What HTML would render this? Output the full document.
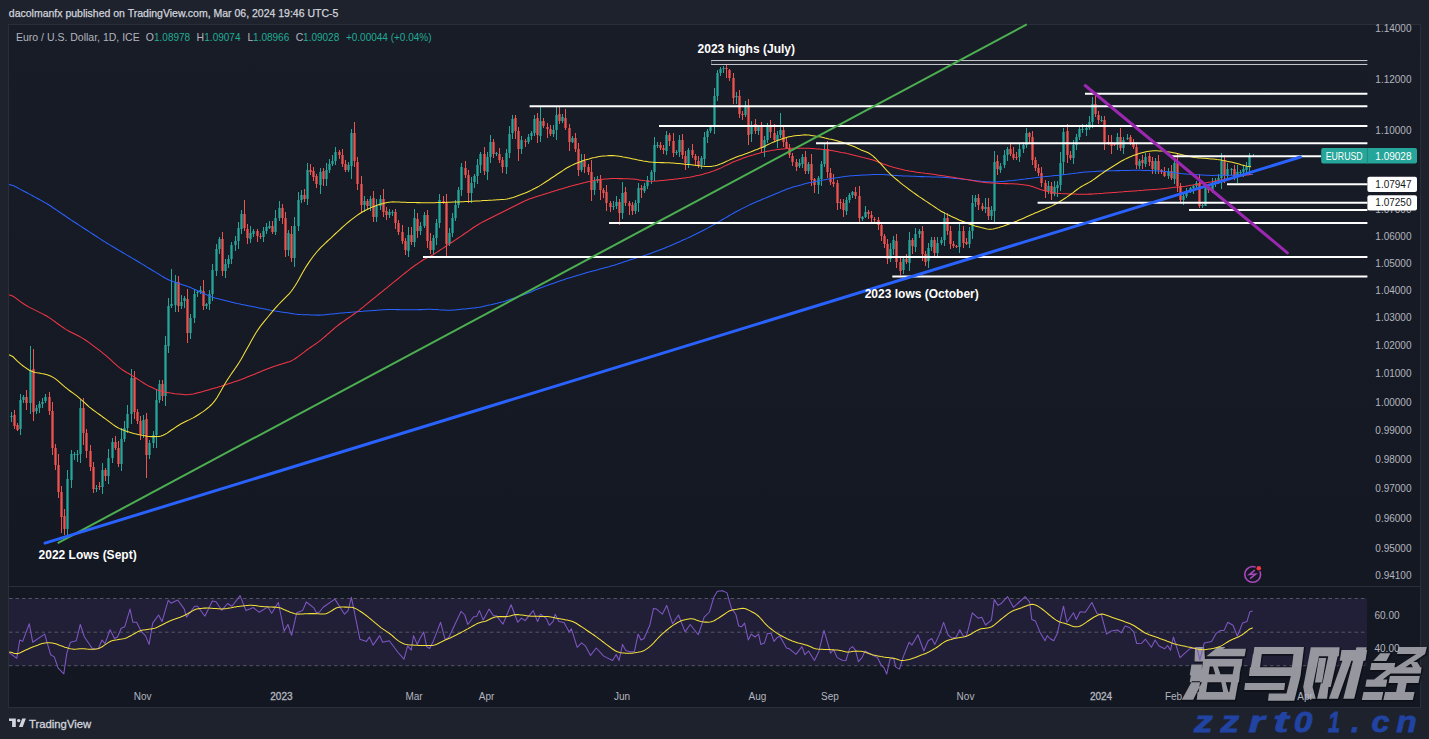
<!DOCTYPE html>
<html><head><meta charset="utf-8"><style>
html,body{margin:0;padding:0;width:1429px;height:739px;overflow:hidden;background:#1e222d}
.hdr{position:absolute;left:8.8px;top:7px;font-family:'Liberation Sans',sans-serif;font-size:10.5px;color:#d1d4dc;white-space:nowrap;-webkit-text-stroke:0.25px #d1d4dc}
.panel{position:absolute;left:8px;top:24px;width:1411px;height:682px;border:1px solid #2a2e39;background:linear-gradient(#181c27,#131722)}
svg{position:absolute;left:0;top:0}
</style></head><body>
<div class="hdr">dacolmanfx published on TradingView.com, Mar 06, 2024 19:46 UTC-5</div>
<div class="panel"></div>
<svg width="1429" height="739" viewBox="0 0 1429 739">
<defs><clipPath id="cp"><rect x="9" y="25" width="1358.4" height="682"/></clipPath></defs>
<rect x="9" y="598.5" width="1358" height="67.2" fill="#7e57c2" fill-opacity="0.13"/><line x1="9" y1="598.5" x2="1367" y2="598.5" stroke="#787b86" stroke-width="1" stroke-opacity="0.6" stroke-dasharray="3.5 3"/><line x1="9" y1="632.2" x2="1367" y2="632.2" stroke="#787b86" stroke-width="1" stroke-opacity="0.6" stroke-dasharray="3.5 3"/><line x1="9" y1="665.7" x2="1367" y2="665.7" stroke="#787b86" stroke-width="1" stroke-opacity="0.6" stroke-dasharray="3.5 3"/><line x1="9" y1="586.5" x2="1420" y2="586.5" stroke="#2a2e39" stroke-width="1"/><path d="M11.5 411.9V421.9M20.5 393.6V435.2M23.5 395.0V402.5M30.5 345.5V413.8M36.5 404.6V414.1M39.5 400.5V413.2M42.5 397.7V407.7M45.5 393.7V403.1M67.5 470.3V534.8M71.5 449.5V488.0M74.5 452.1V459.9M77.5 449.6V462.2M80.5 399.5V463.1M96.5 485.1V491.6M102.5 462.5V494.1M108.5 448.9V484.3M112.5 437.9V462.6M121.5 427.7V471.0M124.5 421.2V442.1M127.5 404.7V433.2M131.5 368.5V424.0M143.5 414.9V437.5M149.5 439.6V459.2M153.5 431.3V447.5M156.5 388.5V448.2M159.5 379.5V403.3M165.5 336.1V405.5M168.5 297.6V352.6M171.5 268.6V307.8M175.5 274.8V312.3M181.5 295.0V308.9M184.5 295.8V308.1M190.5 314.3V338.7M194.5 289.2V322.5M197.5 290.3V296.8M200.5 285.8V294.0M206.5 302.5V309.0M209.5 290.1V310.0M212.5 264.3V301.3M216.5 244.1V276.0M219.5 237.0V253.8M225.5 259.1V277.5M228.5 254.8V267.7M231.5 241.8V264.1M235.5 235.9V251.2M238.5 221.8V248.6M241.5 209.5V233.9M250.5 226.2V243.1M253.5 229.2V237.2M263.5 227.0V241.9M266.5 223.0V234.1M269.5 220.9V228.6M275.5 209.8V234.6M279.5 200.7V220.7M288.5 230.1V255.8M294.5 217.3V266.8M298.5 191.7V230.6M301.5 189.6V202.9M307.5 163.1V205.1M320.5 167.6V193.7M326.5 162.5V186.3M329.5 159.4V172.7M332.5 154.6V165.5M335.5 147.0V164.6M348.5 162.3V171.8M351.5 129.3V179.0M364.5 195.7V211.5M370.5 195.6V210.7M376.5 198.9V222.4M380.5 194.7V210.3M389.5 208.8V217.6M392.5 209.6V215.6M408.5 227.2V257.1M414.5 209.0V246.9M420.5 222.1V235.0M424.5 211.6V228.4M433.5 234.7V255.2M436.5 219.0V244.5M439.5 193.6V227.6M449.5 228.1V245.9M452.5 212.9V236.5M455.5 199.9V220.8M458.5 186.9V207.9M461.5 162.5V196.2M471.5 176.5V202.9M474.5 174.0V188.3M477.5 159.1V183.8M480.5 151.6V172.8M487.5 152.1V180.0M490.5 135.0V163.0M496.5 151.5V156.1M506.5 149.0V174.4M509.5 126.0V158.0M512.5 115.4V138.8M521.5 135.7V153.8M528.5 133.5V144.3M531.5 131.3V140.2M534.5 114.6V135.8M540.5 107.0V142.0M553.5 125.3V136.5M556.5 107.0V139.8M562.5 114.4V122.9M572.5 135.9V143.1M581.5 153.5V172.4M594.5 177.1V195.0M597.5 176.2V182.6M613.5 201.1V209.9M616.5 195.7V208.9M622.5 182.4V219.1M635.5 199.6V214.0M638.5 183.0V211.9M644.5 183.4V192.9M647.5 176.0V189.2M651.5 170.3V183.7M654.5 136.6V180.5M657.5 141.5V147.5M666.5 130.5V155.3M676.5 149.9V154.6M679.5 134.7V156.6M688.5 147.5V167.8M701.5 155.7V169.2M704.5 131.9V164.5M707.5 129.3V142.9M710.5 124.7V133.4M714.5 88.3V133.9M717.5 70.0V100.5M720.5 67.1V75.9M723.5 66.0V72.8M736.5 92.0V104.2M745.5 101.1V116.8M751.5 121.4V141.7M758.5 125.1V135.0M764.5 136.2V157.4M767.5 123.3V142.6M777.5 130.5V147.8M780.5 113.0V137.6M799.5 158.9V168.0M802.5 153.8V168.0M808.5 162.4V173.7M818.5 175.6V193.8M821.5 161.0V186.2M824.5 143.7V167.4M846.5 196.7V215.3M849.5 193.2V202.9M852.5 191.3V198.0M862.5 215.8V221.2M865.5 205.6V218.1M890.5 243.1V261.8M893.5 236.3V254.9M903.5 256.5V274.4M909.5 231.6V271.0M915.5 227.7V252.3M919.5 229.2V237.9M928.5 242.8V268.3M931.5 237.3V251.2M937.5 237.4V257.1M941.5 237.3V245.1M944.5 212.1V245.6M959.5 222.9V252.7M969.5 227.1V247.6M972.5 195.3V238.8M975.5 195.4V207.4M985.5 197.9V212.8M991.5 205.5V219.5M994.5 150.7V223.5M1000.5 163.3V173.1M1004.5 149.7V168.2M1007.5 146.9V161.0M1019.5 143.1V161.5M1023.5 141.7V152.7M1026.5 128.0V147.8M1048.5 181.1V193.8M1054.5 180.5V196.1M1057.5 180.5V196.8M1060.5 152.3V190.6M1063.5 128.0V174.5M1073.5 139.8V163.7M1076.5 134.3V149.6M1079.5 127.1V139.7M1082.5 124.3V132.9M1086.5 124.3V135.5M1089.5 115.8V130.0M1092.5 97.0V127.7M1101.5 115.5V122.4M1117.5 132.6V150.1M1123.5 136.8V154.2M1127.5 134.0V139.9M1139.5 159.0V168.8M1145.5 153.3V166.8M1155.5 158.2V174.4M1168.5 168.4V179.2M1174.5 159.0V184.0M1183.5 194.2V205.3M1186.5 187.8V198.2M1190.5 186.7V193.0M1193.5 184.9V193.5M1196.5 180.7V190.1M1202.5 204.0V208.0M1205.5 183.1V206.0M1212.5 178.1V193.2M1215.5 177.5V187.3M1218.5 173.5V184.0M1221.5 153.0V189.1M1227.5 163.2V179.7M1231.5 167.5V175.2M1237.5 165.1V182.5M1240.5 170.2V173.9M1243.5 165.1V176.9M1246.5 161.9V172.5M1249.5 152.7V174.1M1253.5 154.3V156.8" stroke="#26a69a" stroke-width="1" fill="none" shape-rendering="crispEdges"/><path d="M14.5 409.7V429.1M17.5 423.2V430.9M26.5 389.8V410.0M33.5 348.7V420.5M49.5 392.0V415.0M52.5 402.3V455.1M55.5 444.4V470.3M58.5 454.1V497.5M61.5 485.5V533.0M64.5 509.0V535.0M83.5 397.9V444.6M86.5 428.8V457.7M90.5 445.0V470.5M93.5 461.6V493.4M99.5 482.4V489.5M105.5 468.3V480.7M115.5 435.9V450.1M118.5 441.4V467.0M134.5 371.3V418.5M137.5 408.8V423.5M140.5 416.2V440.3M146.5 412.5V478.0M162.5 379.6V400.6M178.5 276.1V311.8M187.5 289.4V343.3M203.5 280.0V309.7M222.5 231.9V276.4M244.5 200.0V231.3M247.5 224.1V243.8M257.5 228.9V241.6M260.5 233.3V238.8M272.5 220.8V234.1M282.5 203.8V223.6M285.5 212.2V257.0M291.5 225.5V262.4M304.5 189.0V201.8M310.5 164.1V174.7M313.5 167.3V180.7M316.5 174.2V187.7M323.5 168.3V185.7M339.5 150.1V158.7M342.5 149.4V166.6M345.5 159.5V172.0M354.5 121.6V167.4M357.5 157.3V190.3M361.5 175.8V211.8M367.5 199.1V209.2M373.5 190.7V221.9M383.5 189.3V216.5M386.5 207.3V219.5M395.5 208.5V228.9M398.5 220.1V234.7M402.5 224.7V243.7M405.5 237.7V255.3M411.5 227.0V244.5M417.5 212.8V238.2M427.5 210.0V248.0M430.5 233.4V254.0M443.5 195.7V204.2M446.5 193.5V257.8M465.5 160.7V177.8M468.5 170.4V202.5M484.5 147.2V175.2M493.5 139.2V157.9M499.5 148.1V162.9M502.5 156.5V172.5M515.5 114.8V139.0M518.5 127.0V161.1M525.5 139.2V146.8M537.5 112.8V142.7M543.5 117.9V128.2M547.5 123.1V137.8M550.5 124.5V135.9M559.5 107.0V123.6M565.5 109.1V130.2M569.5 124.2V150.9M575.5 132.7V152.3M578.5 143.1V175.8M584.5 154.4V173.4M588.5 163.7V175.3M591.5 160.0V200.7M600.5 175.1V199.6M603.5 188.4V197.6M606.5 184.8V210.7M610.5 200.5V212.2M619.5 199.1V225.0M625.5 187.2V205.9M629.5 201.0V215.1M632.5 202.4V214.5M641.5 185.3V197.9M660.5 141.7V149.9M663.5 144.8V154.0M669.5 132.9V146.2M673.5 133.2V157.2M682.5 134.0V158.5M685.5 151.4V170.1M692.5 143.8V157.7M695.5 153.7V166.2M698.5 155.6V168.2M726.5 64.3V78.0M729.5 68.5V81.0M733.5 73.2V104.1M739.5 89.8V118.4M742.5 110.9V120.3M748.5 98.6V145.1M755.5 119.2V133.8M761.5 121.7V152.1M770.5 120.3V137.6M774.5 123.7V142.0M783.5 124.9V147.2M786.5 138.0V149.4M789.5 144.1V157.7M792.5 153.4V166.1M796.5 159.2V171.2M805.5 151.2V174.1M811.5 154.3V185.5M814.5 177.7V192.8M827.5 141.2V178.4M830.5 168.1V184.9M833.5 174.1V186.5M837.5 179.6V209.7M840.5 198.9V208.7M843.5 198.9V217.0M855.5 186.8V198.7M859.5 185.9V223.2M868.5 210.2V218.7M871.5 210.9V224.1M874.5 217.0V221.7M878.5 217.3V230.0M881.5 221.8V240.7M884.5 233.8V247.7M887.5 239.1V263.7M896.5 233.9V268.1M900.5 256.7V274.8M906.5 253.9V263.9M912.5 237.8V253.5M922.5 225.6V260.5M925.5 251.0V265.6M934.5 236.6V256.0M947.5 212.8V234.5M950.5 226.4V249.2M953.5 240.5V247.7M956.5 244.7V247.7M963.5 225.8V247.5M966.5 237.5V245.4M978.5 193.6V209.5M982.5 202.5V211.0M988.5 198.1V220.1M997.5 154.6V174.7M1010.5 144.0V156.3M1013.5 147.2V160.4M1016.5 152.0V159.9M1029.5 131.5V143.4M1032.5 131.3V165.0M1035.5 157.1V170.9M1038.5 163.6V176.3M1041.5 166.5V186.8M1045.5 180.3V198.2M1051.5 182.3V200.0M1067.5 124.2V163.4M1070.5 151.4V160.4M1095.5 94.5V117.3M1098.5 110.9V124.3M1104.5 115.8V149.6M1108.5 135.3V144.9M1111.5 135.1V153.7M1114.5 143.5V146.4M1120.5 128.1V151.3M1130.5 134.5V145.4M1133.5 139.1V149.1M1136.5 141.6V168.8M1142.5 154.9V169.2M1149.5 152.5V166.1M1152.5 157.3V174.0M1158.5 155.3V173.5M1161.5 169.0V174.1M1164.5 167.3V177.2M1171.5 165.2V180.2M1177.5 152.8V192.1M1180.5 183.4V203.2M1199.5 173.5V208.0M1208.5 186.0V192.9M1224.5 155.0V182.6M1234.5 165.4V180.3" stroke="#ef5350" stroke-width="1" fill="none" shape-rendering="crispEdges"/><path d="M10.35 416h2.3v1h-2.3zM19.35 400h2.3v29h-2.3zM22.35 397h2.3v3h-2.3zM29.35 370h2.3v33h-2.3zM35.35 408h2.3v3h-2.3zM38.35 404h2.3v4h-2.3zM41.35 402h2.3v2h-2.3zM44.35 397h2.3v4h-2.3zM66.35 479h2.3v50h-2.3zM70.35 454h2.3v26h-2.3zM73.35 454h2.3v1h-2.3zM76.35 454h2.3v1h-2.3zM79.35 408h2.3v46h-2.3zM95.35 488h2.3v1h-2.3zM101.35 470h2.3v17h-2.3zM107.35 458h2.3v18h-2.3zM111.35 442h2.3v16h-2.3zM120.35 439h2.3v25h-2.3zM123.35 428h2.3v11h-2.3zM126.35 414h2.3v14h-2.3zM130.35 378h2.3v36h-2.3zM142.35 420h2.3v14h-2.3zM148.35 443h2.3v12h-2.3zM152.35 435h2.3v8h-2.3zM155.35 400h2.3v35h-2.3zM158.35 384h2.3v16h-2.3zM164.35 345h2.3v51h-2.3zM167.35 306h2.3v40h-2.3zM170.35 304h2.3v2h-2.3zM174.35 282h2.3v23h-2.3zM180.35 302h2.3v4h-2.3zM183.35 298h2.3v3h-2.3zM189.35 318h2.3v15h-2.3zM193.35 294h2.3v24h-2.3zM196.35 292h2.3v1h-2.3zM199.35 290h2.3v2h-2.3zM205.35 304h2.3v2h-2.3zM208.35 294h2.3v10h-2.3zM211.35 270h2.3v24h-2.3zM215.35 249h2.3v22h-2.3zM218.35 239h2.3v10h-2.3zM224.35 264h2.3v7h-2.3zM227.35 259h2.3v5h-2.3zM230.35 245h2.3v14h-2.3zM234.35 241h2.3v4h-2.3zM237.35 228h2.3v13h-2.3zM240.35 214h2.3v15h-2.3zM249.35 233h2.3v6h-2.3zM252.35 231h2.3v3h-2.3zM262.35 231h2.3v6h-2.3zM265.35 227h2.3v4h-2.3zM268.35 226h2.3v2h-2.3zM274.35 218h2.3v14h-2.3zM278.35 208h2.3v10h-2.3zM287.35 233h2.3v17h-2.3zM293.35 226h2.3v32h-2.3zM297.35 200h2.3v26h-2.3zM300.35 195h2.3v5h-2.3zM306.35 170h2.3v29h-2.3zM319.35 172h2.3v13h-2.3zM325.35 170h2.3v9h-2.3zM328.35 164h2.3v6h-2.3zM331.35 161h2.3v3h-2.3zM334.35 152h2.3v9h-2.3zM347.35 165h2.3v5h-2.3zM350.35 133h2.3v33h-2.3zM363.35 201h2.3v4h-2.3zM369.35 199h2.3v7h-2.3zM375.35 206h2.3v11h-2.3zM379.35 199h2.3v7h-2.3zM388.35 212h2.3v3h-2.3zM391.35 212h2.3v1h-2.3zM407.35 235h2.3v16h-2.3zM413.35 218h2.3v24h-2.3zM419.35 226h2.3v5h-2.3zM423.35 215h2.3v11h-2.3zM432.35 238h2.3v12h-2.3zM435.35 223h2.3v15h-2.3zM438.35 200h2.3v23h-2.3zM448.35 233h2.3v11h-2.3zM451.35 218h2.3v15h-2.3zM454.35 205h2.3v13h-2.3zM457.35 190h2.3v15h-2.3zM460.35 167h2.3v23h-2.3zM470.35 183h2.3v10h-2.3zM473.35 176h2.3v6h-2.3zM476.35 165h2.3v11h-2.3zM479.35 154h2.3v11h-2.3zM486.35 157h2.3v15h-2.3zM489.35 142h2.3v15h-2.3zM495.35 153h2.3v1h-2.3zM505.35 153h2.3v14h-2.3zM508.35 134h2.3v19h-2.3zM511.35 119h2.3v14h-2.3zM520.35 140h2.3v9h-2.3zM527.35 137h2.3v5h-2.3zM530.35 133h2.3v3h-2.3zM533.35 119h2.3v14h-2.3zM539.35 121h2.3v15h-2.3zM552.35 130h2.3v4h-2.3zM555.35 115h2.3v15h-2.3zM561.35 117h2.3v4h-2.3zM571.35 138h2.3v4h-2.3zM580.35 161h2.3v9h-2.3zM593.35 181h2.3v9h-2.3zM596.35 179h2.3v2h-2.3zM612.35 206h2.3v1h-2.3zM615.35 202h2.3v4h-2.3zM621.35 193h2.3v20h-2.3zM634.35 203h2.3v8h-2.3zM637.35 188h2.3v15h-2.3zM643.35 186h2.3v5h-2.3zM646.35 180h2.3v6h-2.3zM650.35 172h2.3v8h-2.3zM653.35 145h2.3v27h-2.3zM656.35 145h2.3v1h-2.3zM665.35 135h2.3v16h-2.3zM675.35 152h2.3v1h-2.3zM678.35 140h2.3v12h-2.3zM687.35 150h2.3v14h-2.3zM700.35 158h2.3v7h-2.3zM703.35 137h2.3v22h-2.3zM706.35 131h2.3v6h-2.3zM709.35 127h2.3v4h-2.3zM713.35 96h2.3v31h-2.3zM716.35 73h2.3v23h-2.3zM719.35 69h2.3v4h-2.3zM722.35 68h2.3v1h-2.3zM735.35 96h2.3v1h-2.3zM744.35 105h2.3v10h-2.3zM750.35 125h2.3v9h-2.3zM757.35 127h2.3v4h-2.3zM763.35 140h2.3v8h-2.3zM766.35 127h2.3v13h-2.3zM776.35 135h2.3v5h-2.3zM779.35 130h2.3v5h-2.3zM798.35 163h2.3v3h-2.3zM801.35 157h2.3v7h-2.3zM807.35 164h2.3v7h-2.3zM817.35 178h2.3v7h-2.3zM820.35 164h2.3v15h-2.3zM823.35 149h2.3v15h-2.3zM845.35 200h2.3v11h-2.3zM848.35 195h2.3v5h-2.3zM851.35 192h2.3v3h-2.3zM861.35 217h2.3v2h-2.3zM864.35 212h2.3v5h-2.3zM889.35 249h2.3v10h-2.3zM892.35 240h2.3v9h-2.3zM902.35 259h2.3v11h-2.3zM908.35 240h2.3v23h-2.3zM914.35 234h2.3v13h-2.3zM918.35 231h2.3v3h-2.3zM927.35 248h2.3v13h-2.3zM930.35 240h2.3v7h-2.3zM936.35 243h2.3v10h-2.3zM940.35 240h2.3v3h-2.3zM943.35 218h2.3v22h-2.3zM958.35 231h2.3v16h-2.3zM968.35 231h2.3v13h-2.3zM971.35 203h2.3v28h-2.3zM974.35 198h2.3v4h-2.3zM984.35 207h2.3v2h-2.3zM990.35 210h2.3v6h-2.3zM993.35 162h2.3v49h-2.3zM999.35 166h2.3v4h-2.3zM1003.35 155h2.3v10h-2.3zM1006.35 149h2.3v6h-2.3zM1018.35 149h2.3v8h-2.3zM1022.35 145h2.3v4h-2.3zM1025.35 133h2.3v12h-2.3zM1047.35 186h2.3v5h-2.3zM1053.35 187h2.3v7h-2.3zM1056.35 185h2.3v3h-2.3zM1059.35 163h2.3v22h-2.3zM1062.35 132h2.3v30h-2.3zM1072.35 145h2.3v13h-2.3zM1075.35 137h2.3v8h-2.3zM1078.35 129h2.3v8h-2.3zM1081.35 129h2.3v1h-2.3zM1085.35 128h2.3v2h-2.3zM1088.35 122h2.3v6h-2.3zM1091.35 104h2.3v18h-2.3zM1100.35 120h2.3v1h-2.3zM1116.35 137h2.3v8h-2.3zM1122.35 140h2.3v8h-2.3zM1126.35 138h2.3v1h-2.3zM1138.35 161h2.3v5h-2.3zM1144.35 157h2.3v7h-2.3zM1154.35 161h2.3v9h-2.3zM1167.35 171h2.3v5h-2.3zM1173.35 163h2.3v16h-2.3zM1182.35 196h2.3v4h-2.3zM1185.35 191h2.3v5h-2.3zM1189.35 188h2.3v3h-2.3zM1192.35 186h2.3v2h-2.3zM1195.35 183h2.3v3h-2.3zM1201.35 205h2.3v1h-2.3zM1204.35 188h2.3v18h-2.3zM1211.35 184h2.3v6h-2.3zM1214.35 181h2.3v3h-2.3zM1217.35 178h2.3v2h-2.3zM1220.35 161h2.3v17h-2.3zM1226.35 169h2.3v7h-2.3zM1230.35 169h2.3v1h-2.3zM1236.35 172h2.3v5h-2.3zM1239.35 172h2.3v1h-2.3zM1242.35 169h2.3v3h-2.3zM1245.35 167h2.3v3h-2.3zM1248.35 156h2.3v11h-2.3zM1252.35 156h2.3v1h-2.3z" fill="#26a69a"/><path d="M13.35 415h2.3v11h-2.3zM16.35 425h2.3v5h-2.3zM25.35 397h2.3v6h-2.3zM32.35 369h2.3v43h-2.3zM48.35 397h2.3v14h-2.3zM51.35 411h2.3v37h-2.3zM54.35 448h2.3v17h-2.3zM57.35 465h2.3v27h-2.3zM60.35 492h2.3v25h-2.3zM63.35 516h2.3v13h-2.3zM82.35 408h2.3v25h-2.3zM85.35 433h2.3v18h-2.3zM89.35 451h2.3v16h-2.3zM92.35 467h2.3v22h-2.3zM98.35 486h2.3v1h-2.3zM104.35 470h2.3v6h-2.3zM114.35 442h2.3v6h-2.3zM117.35 448h2.3v16h-2.3zM133.35 378h2.3v34h-2.3zM136.35 412h2.3v9h-2.3zM139.35 421h2.3v14h-2.3zM145.35 419h2.3v36h-2.3zM161.35 384h2.3v12h-2.3zM177.35 282h2.3v24h-2.3zM186.35 299h2.3v34h-2.3zM202.35 291h2.3v15h-2.3zM221.35 239h2.3v32h-2.3zM243.35 214h2.3v14h-2.3zM246.35 229h2.3v9h-2.3zM256.35 231h2.3v5h-2.3zM259.35 236h2.3v1h-2.3zM271.35 226h2.3v6h-2.3zM281.35 208h2.3v10h-2.3zM284.35 218h2.3v32h-2.3zM290.35 234h2.3v24h-2.3zM303.35 195h2.3v4h-2.3zM309.35 170h2.3v2h-2.3zM312.35 171h2.3v6h-2.3zM315.35 176h2.3v8h-2.3zM322.35 171h2.3v8h-2.3zM338.35 152h2.3v3h-2.3zM341.35 155h2.3v9h-2.3zM344.35 164h2.3v6h-2.3zM353.35 133h2.3v28h-2.3zM356.35 162h2.3v22h-2.3zM360.35 184h2.3v21h-2.3zM366.35 201h2.3v5h-2.3zM372.35 198h2.3v19h-2.3zM382.35 199h2.3v13h-2.3zM385.35 211h2.3v4h-2.3zM394.35 212h2.3v11h-2.3zM397.35 223h2.3v9h-2.3zM401.35 232h2.3v9h-2.3zM404.35 241h2.3v9h-2.3zM410.35 235h2.3v7h-2.3zM416.35 219h2.3v12h-2.3zM426.35 215h2.3v26h-2.3zM429.35 241h2.3v9h-2.3zM442.35 201h2.3v1h-2.3zM445.35 202h2.3v42h-2.3zM464.35 168h2.3v7h-2.3zM467.35 175h2.3v18h-2.3zM483.35 154h2.3v17h-2.3zM492.35 142h2.3v12h-2.3zM498.35 154h2.3v6h-2.3zM501.35 160h2.3v7h-2.3zM514.35 118h2.3v13h-2.3zM517.35 131h2.3v18h-2.3zM524.35 141h2.3v1h-2.3zM536.35 118h2.3v17h-2.3zM542.35 121h2.3v5h-2.3zM546.35 127h2.3v2h-2.3zM549.35 129h2.3v5h-2.3zM558.35 114h2.3v7h-2.3zM564.35 118h2.3v10h-2.3zM568.35 128h2.3v14h-2.3zM574.35 138h2.3v11h-2.3zM577.35 149h2.3v21h-2.3zM583.35 161h2.3v6h-2.3zM587.35 167h2.3v5h-2.3zM590.35 172h2.3v18h-2.3zM599.35 179h2.3v11h-2.3zM602.35 190h2.3v3h-2.3zM605.35 192h2.3v11h-2.3zM609.35 203h2.3v4h-2.3zM618.35 202h2.3v11h-2.3zM624.35 192h2.3v11h-2.3zM628.35 203h2.3v3h-2.3zM631.35 205h2.3v6h-2.3zM640.35 188h2.3v2h-2.3zM659.35 145h2.3v3h-2.3zM662.35 148h2.3v2h-2.3zM668.35 135h2.3v6h-2.3zM672.35 141h2.3v12h-2.3zM681.35 140h2.3v15h-2.3zM684.35 156h2.3v7h-2.3zM691.35 150h2.3v5h-2.3zM694.35 156h2.3v4h-2.3zM697.35 161h2.3v5h-2.3zM725.35 68h2.3v1h-2.3zM728.35 70h2.3v8h-2.3zM732.35 78h2.3v20h-2.3zM738.35 96h2.3v18h-2.3zM741.35 114h2.3v1h-2.3zM747.35 106h2.3v29h-2.3zM754.35 124h2.3v7h-2.3zM760.35 127h2.3v21h-2.3zM769.35 127h2.3v5h-2.3zM773.35 133h2.3v7h-2.3zM782.35 130h2.3v12h-2.3zM785.35 142h2.3v6h-2.3zM788.35 148h2.3v7h-2.3zM791.35 156h2.3v6h-2.3zM795.35 162h2.3v5h-2.3zM804.35 157h2.3v14h-2.3zM810.35 164h2.3v16h-2.3zM813.35 179h2.3v6h-2.3zM826.35 149h2.3v23h-2.3zM829.35 173h2.3v9h-2.3zM832.35 182h2.3v2h-2.3zM836.35 183h2.3v20h-2.3zM839.35 202h2.3v1h-2.3zM842.35 203h2.3v7h-2.3zM854.35 192h2.3v4h-2.3zM858.35 196h2.3v22h-2.3zM867.35 212h2.3v2h-2.3zM870.35 215h2.3v3h-2.3zM873.35 219h2.3v1h-2.3zM877.35 220h2.3v5h-2.3zM880.35 225h2.3v11h-2.3zM883.35 236h2.3v8h-2.3zM886.35 244h2.3v15h-2.3zM895.35 241h2.3v21h-2.3zM899.35 262h2.3v9h-2.3zM905.35 259h2.3v3h-2.3zM911.35 240h2.3v6h-2.3zM921.35 231h2.3v23h-2.3zM924.35 254h2.3v8h-2.3zM933.35 240h2.3v13h-2.3zM946.35 218h2.3v13h-2.3zM949.35 231h2.3v13h-2.3zM952.35 244h2.3v2h-2.3zM955.35 246h2.3v1h-2.3zM962.35 231h2.3v12h-2.3zM965.35 242h2.3v2h-2.3zM977.35 198h2.3v7h-2.3zM981.35 206h2.3v3h-2.3zM987.35 207h2.3v9h-2.3zM996.35 161h2.3v8h-2.3zM1009.35 149h2.3v5h-2.3zM1012.35 154h2.3v4h-2.3zM1015.35 157h2.3v1h-2.3zM1028.35 133h2.3v4h-2.3zM1031.35 137h2.3v23h-2.3zM1034.35 160h2.3v8h-2.3zM1037.35 168h2.3v5h-2.3zM1040.35 173h2.3v10h-2.3zM1044.35 183h2.3v8h-2.3zM1050.35 186h2.3v8h-2.3zM1066.35 131h2.3v24h-2.3zM1069.35 155h2.3v3h-2.3zM1094.35 104h2.3v10h-2.3zM1097.35 115h2.3v5h-2.3zM1103.35 120h2.3v22h-2.3zM1107.35 142h2.3v1h-2.3zM1110.35 142h2.3v4h-2.3zM1113.35 144h2.3v1h-2.3zM1119.35 137h2.3v11h-2.3zM1129.35 137h2.3v5h-2.3zM1132.35 142h2.3v5h-2.3zM1135.35 147h2.3v18h-2.3zM1141.35 160h2.3v3h-2.3zM1148.35 156h2.3v6h-2.3zM1151.35 161h2.3v8h-2.3zM1157.35 161h2.3v9h-2.3zM1160.35 170h2.3v2h-2.3zM1163.35 172h2.3v4h-2.3zM1170.35 171h2.3v7h-2.3zM1176.35 163h2.3v23h-2.3zM1179.35 186h2.3v14h-2.3zM1198.35 183h2.3v23h-2.3zM1207.35 187h2.3v3h-2.3zM1223.35 161h2.3v15h-2.3zM1233.35 169h2.3v8h-2.3z" fill="#ef5350"/><path d="M9.0 184.4 L11.0 184.9 L13.0 185.4 L15.0 186.5 L17.0 187.5 L19.0 188.6 L21.0 189.6 L23.0 190.7 L25.0 191.7 L27.0 192.8 L29.0 193.9 L31.0 194.9 L33.0 196.0 L35.0 197.1 L37.0 198.2 L39.0 199.3 L41.0 200.4 L43.0 201.5 L45.0 202.6 L47.0 203.8 L49.0 205.0 L51.0 206.3 L53.0 207.7 L55.0 209.0 L57.0 210.4 L59.0 211.7 L61.0 213.1 L63.0 214.5 L65.0 215.8 L67.0 217.2 L69.0 218.5 L71.0 219.9 L73.0 221.2 L75.0 222.5 L77.0 223.8 L79.0 225.1 L81.0 226.4 L83.0 227.7 L85.0 229.0 L87.0 230.3 L89.0 231.6 L91.0 232.9 L93.0 234.2 L95.0 235.5 L97.0 236.8 L99.0 238.1 L101.0 239.4 L103.0 240.7 L105.0 241.9 L107.0 243.2 L109.0 244.4 L111.0 245.6 L113.0 246.8 L115.0 248.0 L117.0 249.2 L119.0 250.4 L121.0 251.5 L123.0 252.7 L125.0 253.9 L127.0 255.1 L129.0 256.2 L131.0 257.4 L133.0 258.6 L135.0 259.8 L137.0 261.0 L139.0 262.2 L141.0 263.4 L143.0 264.6 L145.0 265.8 L147.0 267.1 L149.0 268.3 L151.0 269.5 L153.0 270.7 L155.0 271.9 L157.0 273.1 L159.0 274.3 L161.0 275.6 L163.0 276.8 L165.0 278.0 L167.0 279.0 L169.0 280.0 L171.0 280.8 L173.0 281.6 L175.0 282.2 L177.0 282.9 L179.0 283.6 L181.0 284.2 L183.0 284.9 L185.0 285.6 L187.0 286.3 L189.0 287.0 L191.0 287.8 L193.0 288.7 L195.0 289.6 L197.0 290.5 L199.0 291.4 L201.0 292.3 L203.0 293.2 L205.0 294.1 L207.0 295.0 L209.0 295.8 L211.0 296.6 L213.0 297.3 L215.0 297.9 L217.0 298.4 L219.0 298.9 L221.0 299.4 L223.0 299.9 L225.0 300.4 L227.0 300.9 L229.0 301.4 L231.0 301.9 L233.0 302.4 L235.0 302.9 L237.0 303.4 L239.0 303.8 L241.0 304.3 L243.0 304.7 L245.0 305.1 L247.0 305.5 L249.0 305.9 L251.0 306.3 L253.0 306.7 L255.0 307.1 L257.0 307.5 L259.0 307.9 L261.0 308.3 L263.0 308.7 L265.0 309.1 L267.0 309.6 L269.0 309.9 L271.0 310.3 L273.0 310.6 L275.0 311.0 L277.0 311.3 L279.0 311.6 L281.0 311.9 L283.0 312.2 L285.0 312.5 L287.0 312.8 L289.0 313.1 L291.0 313.4 L293.0 313.7 L295.0 314.0 L297.0 314.2 L299.0 314.4 L301.0 314.6 L303.0 314.7 L305.0 314.7 L307.0 314.8 L309.0 314.8 L311.0 314.9 L313.0 315.0 L315.0 315.0 L317.0 315.1 L319.0 315.1 L321.0 315.0 L323.0 314.9 L325.0 314.7 L327.0 314.5 L329.0 314.3 L331.0 314.1 L333.0 313.9 L335.0 313.7 L337.0 313.5 L339.0 313.3 L341.0 313.1 L343.0 312.9 L345.0 312.7 L347.0 312.6 L349.0 312.4 L351.0 312.2 L353.0 312.1 L355.0 311.9 L357.0 311.7 L359.0 311.6 L361.0 311.4 L363.0 311.3 L365.0 311.1 L367.0 310.9 L369.0 310.8 L371.0 310.7 L373.0 310.5 L375.0 310.4 L377.0 310.2 L379.0 310.1 L381.0 310.0 L383.0 309.8 L385.0 309.7 L387.0 309.6 L389.0 309.5 L391.0 309.5 L393.0 309.5 L395.0 309.5 L397.0 309.6 L399.0 309.6 L401.0 309.7 L403.0 309.7 L405.0 309.7 L407.0 309.8 L409.0 309.8 L411.0 309.8 L413.0 309.8 L415.0 309.8 L417.0 309.7 L419.0 309.6 L421.0 309.6 L423.0 309.5 L425.0 309.4 L427.0 309.3 L429.0 309.3 L431.0 309.3 L433.0 309.4 L435.0 309.5 L437.0 309.6 L439.0 309.8 L441.0 309.9 L443.0 310.0 L445.0 310.1 L447.0 310.2 L449.0 310.2 L451.0 310.2 L453.0 310.0 L455.0 309.9 L457.0 309.7 L459.0 309.5 L461.0 309.3 L463.0 309.1 L465.0 308.9 L467.0 308.7 L469.0 308.5 L471.0 308.3 L473.0 308.1 L475.0 307.9 L477.0 307.6 L479.0 307.3 L481.0 306.9 L483.0 306.5 L485.0 306.0 L487.0 305.6 L489.0 305.1 L491.0 304.7 L493.0 304.2 L495.0 303.7 L497.0 303.3 L499.0 302.8 L501.0 302.3 L503.0 301.8 L505.0 301.2 L507.0 300.5 L509.0 299.8 L511.0 299.1 L513.0 298.4 L515.0 297.7 L517.0 297.0 L519.0 296.3 L521.0 295.6 L523.0 294.9 L525.0 294.2 L527.0 293.5 L529.0 292.7 L531.0 291.9 L533.0 291.0 L535.0 290.1 L537.0 289.3 L539.0 288.5 L541.0 287.7 L543.0 287.0 L545.0 286.2 L547.0 285.5 L549.0 284.8 L551.0 284.1 L553.0 283.4 L555.0 282.7 L557.0 282.0 L559.0 281.3 L561.0 280.6 L563.0 279.9 L565.0 279.2 L567.0 278.6 L569.0 278.0 L571.0 277.4 L573.0 276.8 L575.0 276.2 L577.0 275.6 L579.0 275.0 L581.0 274.4 L583.0 273.8 L585.0 273.2 L587.0 272.6 L589.0 272.1 L591.0 271.5 L593.0 270.9 L595.0 270.4 L597.0 269.9 L599.0 269.3 L601.0 268.8 L603.0 268.3 L605.0 267.7 L607.0 267.2 L609.0 266.7 L611.0 266.1 L613.0 265.5 L615.0 264.9 L617.0 264.3 L619.0 263.6 L621.0 262.9 L623.0 262.3 L625.0 261.6 L627.0 261.0 L629.0 260.3 L631.0 259.6 L633.0 259.0 L635.0 258.3 L637.0 257.7 L639.0 257.1 L641.0 256.4 L643.0 255.9 L645.0 255.3 L647.0 254.7 L649.0 254.0 L651.0 253.3 L653.0 252.6 L655.0 251.8 L657.0 251.0 L659.0 250.2 L661.0 249.5 L663.0 248.7 L665.0 247.9 L667.0 247.1 L669.0 246.3 L671.0 245.4 L673.0 244.6 L675.0 243.7 L677.0 242.8 L679.0 241.9 L681.0 241.0 L683.0 240.1 L685.0 239.3 L687.0 238.4 L689.0 237.4 L691.0 236.5 L693.0 235.5 L695.0 234.5 L697.0 233.5 L699.0 232.5 L701.0 231.5 L703.0 230.5 L705.0 229.5 L707.0 228.4 L709.0 227.4 L711.0 226.3 L713.0 225.1 L715.0 224.0 L717.0 222.8 L719.0 221.6 L721.0 220.5 L723.0 219.3 L725.0 218.1 L727.0 217.0 L729.0 215.8 L731.0 214.6 L733.0 213.5 L735.0 212.3 L737.0 211.2 L739.0 210.2 L741.0 209.1 L743.0 208.1 L745.0 207.1 L747.0 206.1 L749.0 205.1 L751.0 204.2 L753.0 203.3 L755.0 202.4 L757.0 201.5 L759.0 200.7 L761.0 199.9 L763.0 199.1 L765.0 198.3 L767.0 197.4 L769.0 196.6 L771.0 195.8 L773.0 194.9 L775.0 194.1 L777.0 193.2 L779.0 192.4 L781.0 191.6 L783.0 190.7 L785.0 189.9 L787.0 189.1 L789.0 188.4 L791.0 187.7 L793.0 187.1 L795.0 186.5 L797.0 186.0 L799.0 185.4 L801.0 184.9 L803.0 184.3 L805.0 183.8 L807.0 183.3 L809.0 182.8 L811.0 182.4 L813.0 182.0 L815.0 181.6 L817.0 181.2 L819.0 180.8 L821.0 180.5 L823.0 180.1 L825.0 179.7 L827.0 179.3 L829.0 179.0 L831.0 178.7 L833.0 178.3 L835.0 178.0 L837.0 177.7 L839.0 177.4 L841.0 177.1 L843.0 176.7 L845.0 176.4 L847.0 176.2 L849.0 176.0 L851.0 175.8 L853.0 175.7 L855.0 175.6 L857.0 175.5 L859.0 175.3 L861.0 175.2 L863.0 175.1 L865.0 175.0 L867.0 174.9 L869.0 174.8 L871.0 174.7 L873.0 174.6 L875.0 174.5 L877.0 174.4 L879.0 174.4 L881.0 174.4 L883.0 174.5 L885.0 174.7 L887.0 174.8 L889.0 175.0 L891.0 175.2 L893.0 175.3 L895.0 175.5 L897.0 175.6 L899.0 175.7 L901.0 175.8 L903.0 175.9 L905.0 175.9 L907.0 176.0 L909.0 176.1 L911.0 176.2 L913.0 176.3 L915.0 176.3 L917.0 176.4 L919.0 176.5 L921.0 176.6 L923.0 176.6 L925.0 176.7 L927.0 176.7 L929.0 176.8 L931.0 176.9 L933.0 176.9 L935.0 177.0 L937.0 177.0 L939.0 177.1 L941.0 177.2 L943.0 177.3 L945.0 177.4 L947.0 177.6 L949.0 177.8 L951.0 178.0 L953.0 178.2 L955.0 178.4 L957.0 178.6 L959.0 178.8 L961.0 179.0 L963.0 179.2 L965.0 179.4 L967.0 179.6 L969.0 179.8 L971.0 180.1 L973.0 180.4 L975.0 180.6 L977.0 180.9 L979.0 181.1 L981.0 181.3 L983.0 181.4 L985.0 181.6 L987.0 181.7 L989.0 181.8 L991.0 181.9 L993.0 181.9 L995.0 181.9 L997.0 181.8 L999.0 181.7 L1001.0 181.5 L1003.0 181.4 L1005.0 181.2 L1007.0 181.0 L1009.0 180.8 L1011.0 180.7 L1013.0 180.5 L1015.0 180.2 L1017.0 180.0 L1019.0 179.8 L1021.0 179.5 L1023.0 179.2 L1025.0 179.0 L1027.0 178.7 L1029.0 178.4 L1031.0 178.2 L1033.0 177.9 L1035.0 177.7 L1037.0 177.4 L1039.0 177.2 L1041.0 177.0 L1043.0 176.7 L1045.0 176.6 L1047.0 176.4 L1049.0 176.2 L1051.0 176.0 L1053.0 175.8 L1055.0 175.6 L1057.0 175.4 L1059.0 175.2 L1061.0 175.0 L1063.0 174.7 L1065.0 174.5 L1067.0 174.3 L1069.0 174.0 L1071.0 173.7 L1073.0 173.5 L1075.0 173.2 L1077.0 173.0 L1079.0 172.7 L1081.0 172.5 L1083.0 172.3 L1085.0 172.1 L1087.0 172.0 L1089.0 171.8 L1091.0 171.7 L1093.0 171.6 L1095.0 171.4 L1097.0 171.3 L1099.0 171.2 L1101.0 171.1 L1103.0 171.0 L1105.0 171.0 L1107.0 170.9 L1109.0 170.8 L1111.0 170.8 L1113.0 170.7 L1115.0 170.7 L1117.0 170.6 L1119.0 170.6 L1121.0 170.5 L1123.0 170.5 L1125.0 170.5 L1127.0 170.4 L1129.0 170.4 L1131.0 170.3 L1133.0 170.3 L1135.0 170.3 L1137.0 170.3 L1139.0 170.3 L1141.0 170.3 L1143.0 170.4 L1145.0 170.4 L1147.0 170.5 L1149.0 170.6 L1151.0 170.7 L1153.0 170.7 L1155.0 170.8 L1157.0 170.9 L1159.0 170.9 L1161.0 171.1 L1163.0 171.3 L1165.0 171.5 L1167.0 171.7 L1169.0 172.0 L1171.0 172.2 L1173.0 172.5 L1175.0 172.7 L1177.0 173.0 L1179.0 173.2 L1181.0 173.5 L1183.0 173.7 L1185.0 173.9 L1187.0 174.1 L1189.0 174.2 L1191.0 174.3 L1193.0 174.5 L1195.0 174.6 L1197.0 174.7 L1199.0 174.8 L1201.0 174.9 L1203.0 175.0 L1205.0 175.2 L1207.0 175.3 L1209.0 175.3 L1211.0 175.4 L1213.0 175.4 L1215.0 175.3 L1217.0 175.3 L1219.0 175.3 L1221.0 175.3 L1223.0 175.3 L1225.0 175.3 L1227.0 175.2 L1229.0 175.2 L1231.0 175.2 L1233.0 175.2 L1235.0 175.1 L1237.0 175.0 L1239.0 174.9 L1241.0 174.8 L1243.0 174.7 L1245.0 174.7 L1247.0 174.6 L1249.0 174.5 L1251.0 174.4 L1253.0 174.4" stroke="#2962ff" stroke-width="1.05" fill="none"/><path d="M9.1 294.7 L11.1 295.4 L13.1 296.2 L15.1 297.6 L17.1 299.1 L19.1 300.6 L21.1 302.1 L23.1 303.5 L25.1 304.8 L27.1 306.0 L29.1 307.1 L31.1 308.1 L33.1 309.1 L35.1 310.1 L37.1 311.1 L39.1 312.1 L41.1 313.1 L43.1 314.1 L45.1 315.2 L47.1 316.3 L49.1 317.6 L51.1 318.9 L53.1 320.4 L55.1 321.8 L57.1 323.3 L59.1 324.7 L61.1 326.1 L63.1 327.5 L65.1 328.9 L67.1 330.1 L69.1 331.2 L71.1 332.3 L73.1 333.3 L75.1 334.3 L77.1 335.3 L79.1 336.3 L81.1 337.4 L83.1 338.6 L85.1 339.8 L87.1 341.2 L89.1 342.7 L91.1 344.2 L93.1 345.7 L95.1 347.2 L97.1 348.7 L99.1 350.2 L101.1 351.7 L103.1 353.3 L105.1 354.9 L107.1 356.6 L109.1 358.4 L111.1 360.2 L113.1 362.1 L115.1 363.9 L117.1 365.7 L119.1 367.4 L121.1 368.9 L123.1 370.3 L125.1 371.5 L127.1 372.7 L129.1 373.8 L131.1 375.0 L133.1 376.3 L135.1 377.5 L137.1 378.8 L139.1 380.1 L141.1 381.4 L143.1 382.7 L145.1 384.0 L147.1 385.1 L149.1 386.2 L151.1 387.1 L153.1 388.0 L155.1 388.9 L157.1 389.7 L159.1 390.4 L161.1 391.1 L163.1 391.7 L165.1 392.1 L167.1 392.4 L169.1 392.8 L171.1 393.1 L173.1 393.4 L175.1 393.7 L177.1 393.9 L179.1 394.1 L181.1 394.3 L183.1 394.5 L185.1 394.7 L187.1 394.7 L189.1 394.6 L191.1 394.3 L193.1 394.0 L195.1 393.5 L197.1 392.9 L199.1 392.4 L201.1 391.9 L203.1 391.4 L205.1 390.8 L207.1 390.3 L209.1 389.7 L211.1 389.1 L213.1 388.5 L215.1 387.9 L217.1 387.4 L219.1 386.8 L221.1 386.2 L223.1 385.5 L225.1 384.9 L227.1 384.2 L229.1 383.6 L231.1 382.9 L233.1 382.3 L235.1 381.6 L237.1 380.9 L239.1 380.2 L241.1 379.5 L243.1 378.7 L245.1 377.9 L247.1 377.1 L249.1 376.3 L251.1 375.5 L253.1 374.7 L255.1 373.9 L257.1 373.0 L259.1 372.2 L261.1 371.4 L263.1 370.6 L265.1 369.8 L267.1 369.0 L269.1 368.2 L271.1 367.4 L273.1 366.7 L275.1 366.1 L277.1 365.5 L279.1 364.8 L281.1 364.2 L283.1 363.6 L285.1 362.9 L287.1 362.3 L289.1 361.7 L291.1 360.9 L293.1 359.9 L295.1 358.7 L297.1 357.3 L299.1 355.8 L301.1 354.3 L303.1 352.8 L305.1 351.3 L307.1 349.8 L309.1 348.4 L311.1 347.0 L313.1 345.6 L315.1 344.3 L317.1 342.9 L319.1 341.4 L321.1 339.9 L323.1 338.2 L325.1 336.5 L327.1 334.7 L329.1 333.0 L331.1 331.2 L333.1 329.5 L335.1 327.7 L337.1 326.1 L339.1 324.5 L341.1 323.0 L343.1 321.6 L345.1 320.2 L347.1 318.8 L349.1 317.5 L351.1 316.1 L353.1 314.7 L355.1 313.3 L357.1 311.8 L359.1 310.3 L361.1 308.7 L363.1 307.1 L365.1 305.4 L367.1 303.8 L369.1 302.2 L371.1 300.5 L373.1 298.9 L375.1 297.3 L377.1 295.7 L379.1 294.0 L381.1 292.4 L383.1 290.8 L385.1 289.2 L387.1 287.6 L389.1 285.9 L391.1 284.3 L393.1 282.7 L395.1 281.1 L397.1 279.5 L399.1 277.8 L401.1 276.2 L403.1 274.6 L405.1 273.0 L407.1 271.4 L409.1 269.8 L411.1 268.2 L413.1 266.8 L415.1 265.3 L417.1 264.0 L419.1 262.6 L421.1 261.3 L423.1 260.0 L425.1 258.9 L427.1 257.9 L429.1 256.8 L431.1 255.8 L433.1 254.7 L435.1 253.4 L437.1 252.1 L439.1 250.8 L441.1 249.4 L443.1 248.1 L445.1 246.8 L447.1 245.4 L449.1 244.1 L451.1 242.8 L453.1 241.5 L455.1 240.1 L457.1 238.8 L459.1 237.4 L461.1 236.1 L463.1 234.7 L465.1 233.3 L467.1 232.0 L469.1 230.6 L471.1 229.2 L473.1 227.8 L475.1 226.5 L477.1 225.2 L479.1 224.0 L481.1 222.9 L483.1 221.8 L485.1 220.8 L487.1 219.8 L489.1 218.8 L491.1 217.8 L493.1 216.8 L495.1 215.8 L497.1 214.8 L499.1 213.8 L501.1 212.8 L503.1 211.8 L505.1 210.8 L507.1 209.8 L509.1 208.8 L511.1 207.8 L513.1 206.8 L515.1 205.8 L517.1 204.7 L519.1 203.7 L521.1 202.7 L523.1 201.7 L525.1 200.8 L527.1 199.9 L529.1 199.1 L531.1 198.4 L533.1 197.7 L535.1 197.1 L537.1 196.4 L539.1 195.8 L541.1 195.2 L543.1 194.5 L545.1 193.9 L547.1 193.3 L549.1 192.7 L551.1 192.0 L553.1 191.4 L555.1 190.8 L557.1 190.2 L559.1 189.6 L561.1 189.0 L563.1 188.4 L565.1 187.8 L567.1 187.2 L569.1 186.6 L571.1 186.1 L573.1 185.5 L575.1 184.9 L577.1 184.4 L579.1 183.9 L581.1 183.4 L583.1 182.9 L585.1 182.5 L587.1 182.0 L589.1 181.6 L591.1 181.2 L593.1 180.7 L595.1 180.3 L597.1 180.0 L599.1 179.7 L601.1 179.4 L603.1 179.2 L605.1 179.0 L607.1 178.9 L609.1 178.7 L611.1 178.6 L613.1 178.5 L615.1 178.5 L617.1 178.5 L619.1 178.6 L621.1 178.6 L623.1 178.7 L625.1 178.7 L627.1 178.8 L629.1 178.8 L631.1 178.9 L633.1 179.1 L635.1 179.3 L637.1 179.6 L639.1 179.9 L641.1 180.2 L643.1 180.5 L645.1 180.8 L647.1 181.0 L649.1 181.2 L651.1 181.2 L653.1 181.2 L655.1 181.1 L657.1 180.9 L659.1 180.7 L661.1 180.5 L663.1 180.4 L665.1 180.2 L667.1 180.0 L669.1 179.8 L671.1 179.6 L673.1 179.4 L675.1 179.1 L677.1 178.9 L679.1 178.6 L681.1 178.4 L683.1 178.1 L685.1 177.9 L687.1 177.6 L689.1 177.3 L691.1 176.9 L693.1 176.5 L695.1 176.1 L697.1 175.6 L699.1 175.2 L701.1 174.7 L703.1 174.2 L705.1 173.6 L707.1 173.0 L709.1 172.4 L711.1 171.7 L713.1 171.1 L715.1 170.4 L717.1 169.6 L719.1 168.8 L721.1 167.9 L723.1 166.9 L725.1 165.9 L727.1 164.9 L729.1 164.0 L731.1 163.0 L733.1 162.1 L735.1 161.3 L737.1 160.5 L739.1 159.7 L741.1 158.9 L743.1 158.1 L745.1 157.4 L747.1 156.7 L749.1 156.1 L751.1 155.4 L753.1 154.9 L755.1 154.3 L757.1 153.7 L759.1 153.2 L761.1 152.6 L763.1 152.2 L765.1 151.7 L767.1 151.3 L769.1 150.9 L771.1 150.6 L773.1 150.2 L775.1 149.9 L777.1 149.6 L779.1 149.4 L781.1 149.1 L783.1 148.9 L785.1 148.7 L787.1 148.5 L789.1 148.3 L791.1 148.3 L793.1 148.2 L795.1 148.2 L797.1 148.2 L799.1 148.2 L801.1 148.2 L803.1 148.2 L805.1 148.2 L807.1 148.2 L809.1 148.3 L811.1 148.4 L813.1 148.6 L815.1 148.8 L817.1 148.9 L819.1 149.1 L821.1 149.3 L823.1 149.5 L825.1 149.6 L827.1 149.9 L829.1 150.2 L831.1 150.5 L833.1 150.8 L835.1 151.2 L837.1 151.6 L839.1 152.0 L841.1 152.4 L843.1 152.7 L845.1 153.1 L847.1 153.6 L849.1 154.0 L851.1 154.5 L853.1 155.0 L855.1 155.5 L857.1 156.0 L859.1 156.5 L861.1 157.0 L863.1 157.5 L865.1 157.9 L867.1 158.4 L869.1 158.9 L871.1 159.5 L873.1 160.1 L875.1 160.8 L877.1 161.6 L879.1 162.4 L881.1 163.1 L883.1 163.9 L885.1 164.6 L887.1 165.3 L889.1 166.0 L891.1 166.6 L893.1 167.2 L895.1 167.7 L897.1 168.2 L899.1 168.7 L901.1 169.2 L903.1 169.7 L905.1 170.2 L907.1 170.6 L909.1 171.0 L911.1 171.3 L913.1 171.6 L915.1 171.9 L917.1 172.2 L919.1 172.4 L921.1 172.7 L923.1 172.9 L925.1 173.2 L927.1 173.4 L929.1 173.7 L931.1 174.0 L933.1 174.3 L935.1 174.6 L937.1 174.9 L939.1 175.2 L941.1 175.5 L943.1 175.8 L945.1 176.1 L947.1 176.4 L949.1 176.7 L951.1 177.0 L953.1 177.3 L955.1 177.6 L957.1 178.0 L959.1 178.3 L961.1 178.6 L963.1 178.9 L965.1 179.2 L967.1 179.6 L969.1 180.0 L971.1 180.3 L973.1 180.7 L975.1 181.1 L977.1 181.5 L979.1 181.8 L981.1 182.1 L983.1 182.3 L985.1 182.5 L987.1 182.7 L989.1 182.8 L991.1 183.0 L993.1 183.1 L995.1 183.3 L997.1 183.3 L999.1 183.4 L1001.1 183.5 L1003.1 183.5 L1005.1 183.6 L1007.1 183.6 L1009.1 183.7 L1011.1 183.7 L1013.1 183.8 L1015.1 184.0 L1017.1 184.1 L1019.1 184.3 L1021.1 184.5 L1023.1 184.7 L1025.1 184.9 L1027.1 185.2 L1029.1 185.6 L1031.1 186.2 L1033.1 186.8 L1035.1 187.6 L1037.1 188.3 L1039.1 189.0 L1041.1 189.7 L1043.1 190.3 L1045.1 190.9 L1047.1 191.3 L1049.1 191.8 L1051.1 192.1 L1053.1 192.5 L1055.1 192.9 L1057.1 193.2 L1059.1 193.4 L1061.1 193.6 L1063.1 193.7 L1065.1 193.8 L1067.1 193.8 L1069.1 193.9 L1071.1 194.0 L1073.1 194.0 L1075.1 194.1 L1077.1 194.2 L1079.1 194.2 L1081.1 194.2 L1083.1 194.2 L1085.1 194.2 L1087.1 194.2 L1089.1 194.1 L1091.1 194.1 L1093.1 194.0 L1095.1 193.8 L1097.1 193.7 L1099.1 193.6 L1101.1 193.4 L1103.1 193.3 L1105.1 193.1 L1107.1 193.0 L1109.1 192.8 L1111.1 192.7 L1113.1 192.5 L1115.1 192.4 L1117.1 192.2 L1119.1 192.1 L1121.1 191.9 L1123.1 191.8 L1125.1 191.6 L1127.1 191.5 L1129.1 191.3 L1131.1 191.2 L1133.1 191.0 L1135.1 190.9 L1137.1 190.7 L1139.1 190.6 L1141.1 190.4 L1143.1 190.3 L1145.1 190.1 L1147.1 190.0 L1149.1 189.8 L1151.1 189.7 L1153.1 189.5 L1155.1 189.4 L1157.1 189.2 L1159.1 189.1 L1161.1 188.9 L1163.1 188.7 L1165.1 188.5 L1167.1 188.3 L1169.1 188.0 L1171.1 187.8 L1173.1 187.6 L1175.1 187.3 L1177.1 187.1 L1179.1 186.9 L1181.1 186.7 L1183.1 186.4 L1185.1 186.2 L1187.1 185.9 L1189.1 185.6 L1191.1 185.2 L1193.1 184.9 L1195.1 184.6 L1197.1 184.3 L1199.1 183.9 L1201.1 183.6 L1203.1 183.3 L1205.1 182.9 L1207.1 182.6 L1209.1 182.2 L1211.1 181.9 L1213.1 181.5 L1215.1 181.1 L1217.1 180.7 L1219.1 180.3 L1221.1 179.9 L1223.1 179.5 L1225.1 179.1 L1227.1 178.7 L1229.1 178.4 L1231.1 178.0 L1233.1 177.6 L1235.1 177.2 L1237.1 176.8 L1239.1 176.5 L1241.1 176.1 L1243.1 175.7 L1245.1 175.3 L1247.1 174.9 L1249.1 174.7 L1251.1 174.5" stroke="#f23645" stroke-width="1.05" fill="none"/><path d="M9.1 354.8 L11.1 355.8 L13.1 356.8 L15.1 358.8 L17.1 360.8 L19.1 362.7 L21.1 364.4 L23.1 366.0 L25.1 367.4 L27.1 368.8 L29.1 370.0 L31.1 371.0 L33.1 371.8 L35.1 372.4 L37.1 372.8 L39.1 373.1 L41.1 373.5 L43.1 373.8 L45.1 374.3 L47.1 374.8 L49.1 375.5 L51.1 376.3 L53.1 377.4 L55.1 378.6 L57.1 380.1 L59.1 381.8 L61.1 383.6 L63.1 385.4 L65.1 387.1 L67.1 388.7 L69.1 390.3 L71.1 391.7 L73.1 393.1 L75.1 394.6 L77.1 396.2 L79.1 397.8 L81.1 399.6 L83.1 401.4 L85.1 403.2 L87.1 405.0 L89.1 406.8 L91.1 408.4 L93.1 410.0 L95.1 411.4 L97.1 412.9 L99.1 414.3 L101.1 415.7 L103.1 417.2 L105.1 418.6 L107.1 420.1 L109.1 421.6 L111.1 423.1 L113.1 424.6 L115.1 426.0 L117.1 427.3 L119.1 428.4 L121.1 429.3 L123.1 430.1 L125.1 430.8 L127.1 431.4 L129.1 432.1 L131.1 432.7 L133.1 433.3 L135.1 433.8 L137.1 434.2 L139.1 434.7 L141.1 435.1 L143.1 435.4 L145.1 435.8 L147.1 436.2 L149.1 436.4 L151.1 436.6 L153.1 436.6 L155.1 436.6 L157.1 436.5 L159.1 436.4 L161.1 435.9 L163.1 435.2 L165.1 434.3 L167.1 433.1 L169.1 431.7 L171.1 430.3 L173.1 429.0 L175.1 427.6 L177.1 426.3 L179.1 425.0 L181.1 423.8 L183.1 422.7 L185.1 421.7 L187.1 420.8 L189.1 419.9 L191.1 418.9 L193.1 417.9 L195.1 416.8 L197.1 415.5 L199.1 414.2 L201.1 412.9 L203.1 411.6 L205.1 410.1 L207.1 408.5 L209.1 406.8 L211.1 405.0 L213.1 402.9 L215.1 400.4 L217.1 397.5 L219.1 394.1 L221.1 390.6 L223.1 386.9 L225.1 383.4 L227.1 380.2 L229.1 377.2 L231.1 374.3 L233.1 371.4 L235.1 368.5 L237.1 365.6 L239.1 362.5 L241.1 359.2 L243.1 355.7 L245.1 352.1 L247.1 348.5 L249.1 344.9 L251.1 341.3 L253.1 337.7 L255.1 334.2 L257.1 331.0 L259.1 328.1 L261.1 325.3 L263.1 322.8 L265.1 320.4 L267.1 318.0 L269.1 315.5 L271.1 313.1 L273.1 310.7 L275.1 308.4 L277.1 306.1 L279.1 304.0 L281.1 301.9 L283.1 299.9 L285.1 297.9 L287.1 295.9 L289.1 293.9 L291.1 291.5 L293.1 288.8 L295.1 285.8 L297.1 282.5 L299.1 278.9 L301.1 275.3 L303.1 271.7 L305.1 268.3 L307.1 265.1 L309.1 262.1 L311.1 259.3 L313.1 256.5 L315.1 254.0 L317.1 251.5 L319.1 249.3 L321.1 247.2 L323.1 245.3 L325.1 243.4 L327.1 241.5 L329.1 239.6 L331.1 237.8 L333.1 235.9 L335.1 234.0 L337.1 232.2 L339.1 230.3 L341.1 228.5 L343.1 226.6 L345.1 224.9 L347.1 223.1 L349.1 221.5 L351.1 219.9 L353.1 218.4 L355.1 216.9 L357.1 215.4 L359.1 214.0 L361.1 212.7 L363.1 211.5 L365.1 210.5 L367.1 209.5 L369.1 208.6 L371.1 207.6 L373.1 206.8 L375.1 206.0 L377.1 205.2 L379.1 204.6 L381.1 204.0 L383.1 203.5 L385.1 202.9 L387.1 202.5 L389.1 202.2 L391.1 202.0 L393.1 201.9 L395.1 202.0 L397.1 202.0 L399.1 202.1 L401.1 202.2 L403.1 202.2 L405.1 202.3 L407.1 202.4 L409.1 202.4 L411.1 202.5 L413.1 202.5 L415.1 202.5 L417.1 202.6 L419.1 202.6 L421.1 202.7 L423.1 202.7 L425.1 202.7 L427.1 202.7 L429.1 202.7 L431.1 202.7 L433.1 202.7 L435.1 202.7 L437.1 202.6 L439.1 202.5 L441.1 202.5 L443.1 202.4 L445.1 202.4 L447.1 202.3 L449.1 202.2 L451.1 202.2 L453.1 202.1 L455.1 202.0 L457.1 202.0 L459.1 201.9 L461.1 201.8 L463.1 201.7 L465.1 201.6 L467.1 201.5 L469.1 201.4 L471.1 201.3 L473.1 201.2 L475.1 201.1 L477.1 201.0 L479.1 200.9 L481.1 200.8 L483.1 200.6 L485.1 200.5 L487.1 200.4 L489.1 200.3 L491.1 200.2 L493.1 200.1 L495.1 199.9 L497.1 199.8 L499.1 199.7 L501.1 199.6 L503.1 199.5 L505.1 199.3 L507.1 199.0 L509.1 198.6 L511.1 198.0 L513.1 197.4 L515.1 196.7 L517.1 195.9 L519.1 195.2 L521.1 194.5 L523.1 193.8 L525.1 193.1 L527.1 192.2 L529.1 191.3 L531.1 190.4 L533.1 189.3 L535.1 188.3 L537.1 187.2 L539.1 186.1 L541.1 184.9 L543.1 183.6 L545.1 182.3 L547.1 181.0 L549.1 179.7 L551.1 178.3 L553.1 177.0 L555.1 175.7 L557.1 174.3 L559.1 173.0 L561.1 171.7 L563.1 170.4 L565.1 169.0 L567.1 167.8 L569.1 166.7 L571.1 165.6 L573.1 164.7 L575.1 163.8 L577.1 163.0 L579.1 162.2 L581.1 161.4 L583.1 160.6 L585.1 160.0 L587.1 159.4 L589.1 158.9 L591.1 158.3 L593.1 157.8 L595.1 157.4 L597.1 156.9 L599.1 156.6 L601.1 156.3 L603.1 156.1 L605.1 155.9 L607.1 155.8 L609.1 155.6 L611.1 155.6 L613.1 155.6 L615.1 155.7 L617.1 156.0 L619.1 156.3 L621.1 156.6 L623.1 157.0 L625.1 157.3 L627.1 157.7 L629.1 158.1 L631.1 158.5 L633.1 158.9 L635.1 159.3 L637.1 159.8 L639.1 160.2 L641.1 160.6 L643.1 161.0 L645.1 161.3 L647.1 161.6 L649.1 161.9 L651.1 162.1 L653.1 162.2 L655.1 162.4 L657.1 162.4 L659.1 162.5 L661.1 162.6 L663.1 162.6 L665.1 162.7 L667.1 162.8 L669.1 162.8 L671.1 163.0 L673.1 163.1 L675.1 163.3 L677.1 163.5 L679.1 163.6 L681.1 163.8 L683.1 164.0 L685.1 164.2 L687.1 164.4 L689.1 164.6 L691.1 164.8 L693.1 165.0 L695.1 165.3 L697.1 165.5 L699.1 165.7 L701.1 166.0 L703.1 166.2 L705.1 166.5 L707.1 166.5 L709.1 166.5 L711.1 166.4 L713.1 166.1 L715.1 165.7 L717.1 165.2 L719.1 164.5 L721.1 163.8 L723.1 162.9 L725.1 162.0 L727.1 161.1 L729.1 160.1 L731.1 159.2 L733.1 158.4 L735.1 157.6 L737.1 156.8 L739.1 156.1 L741.1 155.4 L743.1 154.7 L745.1 153.9 L747.1 153.2 L749.1 152.4 L751.1 151.7 L753.1 150.9 L755.1 150.1 L757.1 149.4 L759.1 148.6 L761.1 147.8 L763.1 146.9 L765.1 146.0 L767.1 145.0 L769.1 144.1 L771.1 143.1 L773.1 142.2 L775.1 141.4 L777.1 140.6 L779.1 139.9 L781.1 139.2 L783.1 138.5 L785.1 137.9 L787.1 137.3 L789.1 136.8 L791.1 136.4 L793.1 136.1 L795.1 135.8 L797.1 135.6 L799.1 135.4 L801.1 135.2 L803.1 135.0 L805.1 134.9 L807.1 135.0 L809.1 135.1 L811.1 135.4 L813.1 135.7 L815.1 136.0 L817.1 136.4 L819.1 136.7 L821.1 137.1 L823.1 137.5 L825.1 138.0 L827.1 138.4 L829.1 138.9 L831.1 139.3 L833.1 139.8 L835.1 140.3 L837.1 140.8 L839.1 141.4 L841.1 142.0 L843.1 142.6 L845.1 143.3 L847.1 144.0 L849.1 144.7 L851.1 145.4 L853.1 146.2 L855.1 147.1 L857.1 148.0 L859.1 148.9 L861.1 149.9 L863.1 150.7 L865.1 151.5 L867.1 152.3 L869.1 153.3 L871.1 154.6 L873.1 156.1 L875.1 158.0 L877.1 160.0 L879.1 162.1 L881.1 164.2 L883.1 166.4 L885.1 168.7 L887.1 170.8 L889.1 172.9 L891.1 174.8 L893.1 176.6 L895.1 178.3 L897.1 180.0 L899.1 181.7 L901.1 183.3 L903.1 184.9 L905.1 186.4 L907.1 187.9 L909.1 189.5 L911.1 190.9 L913.1 192.4 L915.1 193.8 L917.1 195.2 L919.1 196.6 L921.1 197.9 L923.1 199.2 L925.1 200.6 L927.1 201.9 L929.1 203.3 L931.1 204.6 L933.1 205.9 L935.1 207.3 L937.1 208.6 L939.1 209.9 L941.1 211.2 L943.1 212.3 L945.1 213.4 L947.1 214.4 L949.1 215.3 L951.1 216.3 L953.1 217.2 L955.1 218.1 L957.1 219.0 L959.1 219.9 L961.1 220.7 L963.1 221.5 L965.1 222.3 L967.1 223.1 L969.1 223.9 L971.1 224.6 L973.1 225.3 L975.1 225.9 L977.1 226.4 L979.1 226.9 L981.1 227.5 L983.1 228.0 L985.1 228.6 L987.1 229.1 L989.1 229.3 L991.1 229.2 L993.1 229.0 L995.1 228.5 L997.1 227.9 L999.1 227.4 L1001.1 226.8 L1003.1 226.2 L1005.1 225.5 L1007.1 224.8 L1009.1 224.1 L1011.1 223.3 L1013.1 222.5 L1015.1 221.8 L1017.1 221.0 L1019.1 220.1 L1021.1 219.3 L1023.1 218.4 L1025.1 217.5 L1027.1 216.6 L1029.1 215.7 L1031.1 214.8 L1033.1 214.0 L1035.1 213.1 L1037.1 212.3 L1039.1 211.4 L1041.1 210.6 L1043.1 209.8 L1045.1 209.0 L1047.1 208.1 L1049.1 207.3 L1051.1 206.4 L1053.1 205.4 L1055.1 204.3 L1057.1 203.2 L1059.1 201.9 L1061.1 200.7 L1063.1 199.5 L1065.1 198.2 L1067.1 196.9 L1069.1 195.5 L1071.1 194.0 L1073.1 192.6 L1075.1 191.0 L1077.1 189.5 L1079.1 188.1 L1081.1 186.8 L1083.1 185.6 L1085.1 184.5 L1087.1 183.5 L1089.1 182.4 L1091.1 181.2 L1093.1 179.9 L1095.1 178.5 L1097.1 177.0 L1099.1 175.5 L1101.1 174.1 L1103.1 172.7 L1105.1 171.3 L1107.1 170.0 L1109.1 168.7 L1111.1 167.5 L1113.1 166.2 L1115.1 165.0 L1117.1 163.7 L1119.1 162.5 L1121.1 161.3 L1123.1 160.2 L1125.1 159.1 L1127.1 158.2 L1129.1 157.3 L1131.1 156.4 L1133.1 155.6 L1135.1 154.9 L1137.1 154.2 L1139.1 153.5 L1141.1 152.9 L1143.1 152.4 L1145.1 151.9 L1147.1 151.5 L1149.1 151.2 L1151.1 150.9 L1153.1 150.8 L1155.1 150.8 L1157.1 150.8 L1159.1 150.9 L1161.1 151.0 L1163.1 151.1 L1165.1 151.4 L1167.1 151.7 L1169.1 152.0 L1171.1 152.3 L1173.1 152.7 L1175.1 153.1 L1177.1 153.6 L1179.1 154.1 L1181.1 154.6 L1183.1 155.0 L1185.1 155.5 L1187.1 155.9 L1189.1 156.4 L1191.1 156.8 L1193.1 157.2 L1195.1 157.5 L1197.1 157.7 L1199.1 157.9 L1201.1 158.0 L1203.1 158.2 L1205.1 158.3 L1207.1 158.5 L1209.1 158.7 L1211.1 158.9 L1213.1 159.1 L1215.1 159.3 L1217.1 159.6 L1219.1 159.8 L1221.1 160.1 L1223.1 160.5 L1225.1 160.8 L1227.1 161.3 L1229.1 161.7 L1231.1 162.1 L1233.1 162.6 L1235.1 163.1 L1237.1 163.6 L1239.1 164.1 L1241.1 164.7 L1243.1 165.2 L1245.1 165.8 L1247.1 166.3 L1249.1 166.6 L1251.1 166.8" stroke="#f5e13b" stroke-width="1.05" fill="none"/><line x1="1085" y1="93.7" x2="1367.4" y2="93.7" stroke="#ffffff" stroke-width="2"/><line x1="529.6" y1="106.2" x2="1367.4" y2="106.2" stroke="#ffffff" stroke-width="2"/><line x1="659" y1="125.9" x2="1367.4" y2="125.9" stroke="#ffffff" stroke-width="2"/><line x1="816" y1="143.3" x2="1367.4" y2="143.3" stroke="#ffffff" stroke-width="2"/><line x1="1227" y1="184.3" x2="1367.4" y2="184.3" stroke="#ffffff" stroke-width="2"/><line x1="1037.6" y1="202.8" x2="1367.4" y2="202.8" stroke="#ffffff" stroke-width="2"/><line x1="1189" y1="210.1" x2="1367.4" y2="210.1" stroke="#ffffff" stroke-width="2"/><line x1="609" y1="223" x2="1367.4" y2="223" stroke="#ffffff" stroke-width="2"/><line x1="423" y1="256.9" x2="1367.4" y2="256.9" stroke="#ffffff" stroke-width="2"/><line x1="892.3" y1="276.6" x2="1367.4" y2="276.6" stroke="#ffffff" stroke-width="2"/><line x1="1170" y1="156.2" x2="1321" y2="156.2" stroke="#ffffff" stroke-width="2"/><rect x="711" y="60.5" width="656.4" height="4" fill="#2a2e39" fill-opacity="0.5"/><line x1="711" y1="60.5" x2="1367.4" y2="60.5" stroke="#c3c5cb" stroke-width="1"/><line x1="711" y1="64.5" x2="1367.4" y2="64.5" stroke="#c3c5cb" stroke-width="1"/><line x1="711.5" y1="60.5" x2="711.5" y2="64.5" stroke="#787b86" stroke-width="1" stroke-opacity="0.6"/><line x1="57.7" y1="543.1" x2="1026.8" y2="24.4" stroke="#4caf50" stroke-width="2"/><line x1="45" y1="543.1" x2="1300.4" y2="157" stroke="#2962ff" stroke-width="3" stroke-linecap="round"/><line x1="1085.2" y1="85.5" x2="1287.4" y2="252.8" stroke="#9c27b0" stroke-width="3" stroke-linecap="round"/><text x="697.6" y="53" style="font-family:'Liberation Sans',sans-serif;font-size:12px;font-weight:700" fill="#ffffff">2023 highs (July)</text><text x="38.6" y="558.8" style="font-family:'Liberation Sans',sans-serif;font-size:12px;font-weight:700" fill="#ffffff">2022 Lows (Sept)</text><text x="864.7" y="297.8" style="font-family:'Liberation Sans',sans-serif;font-size:12px;font-weight:700" fill="#ffffff">2023 lows (October)</text><path d="M1195.0 647.0 L1204.2 647.0 L1205.1 661.5 L1194.5 661.5ZM1191.4 664.6 L1202.0 664.6 L1201.5 675.2 L1189.7 675.2ZM1181.8 699.8 L1193.2 699.8 L1202.4 681.3 L1191.9 681.3ZM1206.4 656.3 L1217.8 647.0 L1225.7 647.0 L1223.1 648.8 L1246.0 648.8 L1244.6 656.3ZM1203.3 658.9 L1242.4 658.9 L1241.6 666.4 L1202.4 666.4ZM1203.3 658.9 L1210.8 658.9 L1205.1 699.8 L1197.6 699.8ZM1235.4 658.9 L1242.4 658.9 L1235.0 699.8 L1227.9 699.8ZM1191.0 674.3 L1239.8 674.3 L1238.9 682.2 L1189.7 682.2ZM1197.6 691.9 L1234.5 691.9 L1233.6 699.8 L1196.7 699.8ZM1213.0 666.4 L1217.8 666.4 L1220.5 674.3 L1215.2 674.3ZM1221.3 682.2 L1225.7 682.2 L1228.4 691.9 L1223.1 691.9ZM1254.3 647.0 L1304.0 647.0 L1303.1 654.1 L1253.4 654.1ZM1253.0 654.1 L1261.8 654.1 L1259.6 669.9 L1250.4 669.9ZM1294.3 647.0 L1304.0 647.0 L1300.5 676.1 L1290.8 676.1ZM1249.9 667.3 L1300.5 667.3 L1299.6 676.1 L1249.0 676.1ZM1245.1 683.1 L1285.1 683.1 L1284.2 690.1 L1244.2 690.1ZM1290.8 676.1 L1300.5 676.1 L1294.3 700.7 L1284.7 700.7ZM1268.8 693.6 L1294.3 693.6 L1293.5 700.7 L1268.0 700.7ZM1311.7 647.2 L1339.7 647.2 L1338.8 656.2 L1310.8 656.2ZM1310.8 647.2 L1320.8 647.2 L1312.6 686.9 L1303.2 686.9ZM1330.2 647.2 L1339.7 647.2 L1330.7 686.9 L1321.7 686.9ZM1319.0 658.1 L1326.2 658.1 L1322.1 682.4 L1314.9 682.4ZM1303.2 686.9 L1312.6 686.9 L1315.8 698.7 L1305.4 698.7ZM1320.8 683.3 L1328.9 683.3 L1327.1 698.7 L1317.1 698.7ZM1341.5 649.9 L1367.2 649.9 L1365.4 660.8 L1339.7 660.8ZM1356.4 647.2 L1366.8 647.2 L1354.2 698.7 L1343.3 698.7ZM1342.4 660.8 L1351.4 660.8 L1337.9 698.7 L1328.9 698.7ZM1380.2 653.2 L1390.4 653.2 L1386.4 661.1 L1373.2 661.1ZM1371.4 662.9 L1395.2 662.9 L1393.9 669.9 L1370.1 669.9ZM1386.4 669.9 L1395.2 669.9 L1382.9 679.6 L1374.1 679.6ZM1366.6 679.6 L1387.3 679.6 L1386.0 686.7 L1365.3 686.7ZM1363.5 691.9 L1383.3 691.9 L1381.6 699.9 L1361.8 699.9ZM1398.7 647.0 L1426.9 647.0 L1425.1 654.1 L1397.0 654.1ZM1416.3 654.1 L1425.1 654.1 L1401.4 669.9 L1391.7 669.9ZM1410.2 662.0 L1417.2 662.0 L1421.6 669.0 L1413.7 669.0ZM1391.7 667.3 L1421.6 667.3 L1420.7 673.5 L1390.8 673.5ZM1389.9 676.1 L1419.9 676.1 L1418.5 683.1 L1388.6 683.1ZM1397.9 683.1 L1406.7 683.1 L1404.9 691.9 L1396.1 691.9ZM1385.1 691.9 L1414.6 691.9 L1412.8 699.9 L1383.3 699.9Z" fill="none" stroke="#0b0d12" stroke-width="1.6" stroke-opacity="0.7" transform="translate(0.6,0.8)"/><path d="M1195.0 647.0 L1204.2 647.0 L1205.1 661.5 L1194.5 661.5ZM1191.4 664.6 L1202.0 664.6 L1201.5 675.2 L1189.7 675.2ZM1181.8 699.8 L1193.2 699.8 L1202.4 681.3 L1191.9 681.3ZM1206.4 656.3 L1217.8 647.0 L1225.7 647.0 L1223.1 648.8 L1246.0 648.8 L1244.6 656.3ZM1203.3 658.9 L1242.4 658.9 L1241.6 666.4 L1202.4 666.4ZM1203.3 658.9 L1210.8 658.9 L1205.1 699.8 L1197.6 699.8ZM1235.4 658.9 L1242.4 658.9 L1235.0 699.8 L1227.9 699.8ZM1191.0 674.3 L1239.8 674.3 L1238.9 682.2 L1189.7 682.2ZM1197.6 691.9 L1234.5 691.9 L1233.6 699.8 L1196.7 699.8ZM1213.0 666.4 L1217.8 666.4 L1220.5 674.3 L1215.2 674.3ZM1221.3 682.2 L1225.7 682.2 L1228.4 691.9 L1223.1 691.9ZM1254.3 647.0 L1304.0 647.0 L1303.1 654.1 L1253.4 654.1ZM1253.0 654.1 L1261.8 654.1 L1259.6 669.9 L1250.4 669.9ZM1294.3 647.0 L1304.0 647.0 L1300.5 676.1 L1290.8 676.1ZM1249.9 667.3 L1300.5 667.3 L1299.6 676.1 L1249.0 676.1ZM1245.1 683.1 L1285.1 683.1 L1284.2 690.1 L1244.2 690.1ZM1290.8 676.1 L1300.5 676.1 L1294.3 700.7 L1284.7 700.7ZM1268.8 693.6 L1294.3 693.6 L1293.5 700.7 L1268.0 700.7ZM1311.7 647.2 L1339.7 647.2 L1338.8 656.2 L1310.8 656.2ZM1310.8 647.2 L1320.8 647.2 L1312.6 686.9 L1303.2 686.9ZM1330.2 647.2 L1339.7 647.2 L1330.7 686.9 L1321.7 686.9ZM1319.0 658.1 L1326.2 658.1 L1322.1 682.4 L1314.9 682.4ZM1303.2 686.9 L1312.6 686.9 L1315.8 698.7 L1305.4 698.7ZM1320.8 683.3 L1328.9 683.3 L1327.1 698.7 L1317.1 698.7ZM1341.5 649.9 L1367.2 649.9 L1365.4 660.8 L1339.7 660.8ZM1356.4 647.2 L1366.8 647.2 L1354.2 698.7 L1343.3 698.7ZM1342.4 660.8 L1351.4 660.8 L1337.9 698.7 L1328.9 698.7ZM1380.2 653.2 L1390.4 653.2 L1386.4 661.1 L1373.2 661.1ZM1371.4 662.9 L1395.2 662.9 L1393.9 669.9 L1370.1 669.9ZM1386.4 669.9 L1395.2 669.9 L1382.9 679.6 L1374.1 679.6ZM1366.6 679.6 L1387.3 679.6 L1386.0 686.7 L1365.3 686.7ZM1363.5 691.9 L1383.3 691.9 L1381.6 699.9 L1361.8 699.9ZM1398.7 647.0 L1426.9 647.0 L1425.1 654.1 L1397.0 654.1ZM1416.3 654.1 L1425.1 654.1 L1401.4 669.9 L1391.7 669.9ZM1410.2 662.0 L1417.2 662.0 L1421.6 669.0 L1413.7 669.0ZM1391.7 667.3 L1421.6 667.3 L1420.7 673.5 L1390.8 673.5ZM1389.9 676.1 L1419.9 676.1 L1418.5 683.1 L1388.6 683.1ZM1397.9 683.1 L1406.7 683.1 L1404.9 691.9 L1396.1 691.9ZM1385.1 691.9 L1414.6 691.9 L1412.8 699.9 L1383.3 699.9Z" fill="#9b9ca3" fill-opacity="0.96"/><text x="1411.5" y="32.2" text-anchor="end" style="font-family:'Liberation Sans',sans-serif;font-size:10px" fill="#b2b5be">1.14000</text><text x="1411.5" y="82.6" text-anchor="end" style="font-family:'Liberation Sans',sans-serif;font-size:10px" fill="#b2b5be">1.12000</text><text x="1411.5" y="134.0" text-anchor="end" style="font-family:'Liberation Sans',sans-serif;font-size:10px" fill="#b2b5be">1.10000</text><text x="1411.5" y="212.8" text-anchor="end" style="font-family:'Liberation Sans',sans-serif;font-size:10px" fill="#b2b5be">1.07000</text><text x="1411.5" y="239.5" text-anchor="end" style="font-family:'Liberation Sans',sans-serif;font-size:10px" fill="#b2b5be">1.06000</text><text x="1411.5" y="266.5" text-anchor="end" style="font-family:'Liberation Sans',sans-serif;font-size:10px" fill="#b2b5be">1.05000</text><text x="1411.5" y="293.8" text-anchor="end" style="font-family:'Liberation Sans',sans-serif;font-size:10px" fill="#b2b5be">1.04000</text><text x="1411.5" y="321.4" text-anchor="end" style="font-family:'Liberation Sans',sans-serif;font-size:10px" fill="#b2b5be">1.03000</text><text x="1411.5" y="349.2" text-anchor="end" style="font-family:'Liberation Sans',sans-serif;font-size:10px" fill="#b2b5be">1.02000</text><text x="1411.5" y="377.2" text-anchor="end" style="font-family:'Liberation Sans',sans-serif;font-size:10px" fill="#b2b5be">1.01000</text><text x="1411.5" y="405.6" text-anchor="end" style="font-family:'Liberation Sans',sans-serif;font-size:10px" fill="#b2b5be">1.00000</text><text x="1411.5" y="434.2" text-anchor="end" style="font-family:'Liberation Sans',sans-serif;font-size:10px" fill="#b2b5be">0.99000</text><text x="1411.5" y="463.2" text-anchor="end" style="font-family:'Liberation Sans',sans-serif;font-size:10px" fill="#b2b5be">0.98000</text><text x="1411.5" y="492.4" text-anchor="end" style="font-family:'Liberation Sans',sans-serif;font-size:10px" fill="#b2b5be">0.97000</text><text x="1411.5" y="521.9" text-anchor="end" style="font-family:'Liberation Sans',sans-serif;font-size:10px" fill="#b2b5be">0.96000</text><text x="1411.5" y="551.8" text-anchor="end" style="font-family:'Liberation Sans',sans-serif;font-size:10px" fill="#b2b5be">0.95000</text><text x="1411.5" y="578.9" text-anchor="end" style="font-family:'Liberation Sans',sans-serif;font-size:10px" fill="#b2b5be">0.94100</text><rect x="1321.2" y="148.1" width="95.8" height="15.5" rx="2" fill="#26a69a"/><line x1="1367.4" y1="148.1" x2="1367.4" y2="163.6" stroke="#1f8a80" stroke-width="1"/><text x="1325.7" y="159.5" textLength="37" lengthAdjust="spacingAndGlyphs" style="font-family:'Liberation Sans',sans-serif;font-size:10px" fill="#ffffff">EURUSD</text><text x="1411.5" y="159.5" text-anchor="end" style="font-family:'Liberation Sans',sans-serif;font-size:10px" fill="#ffffff">1.09028</text><rect x="1367.4" y="176.8" width="49.6" height="15.2" rx="2" fill="#ffffff"/><text x="1411.5" y="188.0" text-anchor="end" style="font-family:'Liberation Sans',sans-serif;font-size:10px" fill="#131722">1.07947</text><rect x="1367.4" y="195.2" width="49.6" height="15.2" rx="2" fill="#ffffff"/><text x="1411.5" y="206.4" text-anchor="end" style="font-family:'Liberation Sans',sans-serif;font-size:10px" fill="#131722">1.07250</text><text x="1374.5" y="619" style="font-family:'Liberation Sans',sans-serif;font-size:10px" fill="#b2b5be">60.00</text><text x="1374.5" y="652.2" style="font-family:'Liberation Sans',sans-serif;font-size:10px" fill="#b2b5be">40.00</text><text x="142.7" y="699.5" text-anchor="middle" style="font-family:'Liberation Sans',sans-serif;font-size:10px" fill="#b2b5be">Nov</text><text x="281.4" y="699.5" text-anchor="middle" style="font-family:'Liberation Sans',sans-serif;font-size:10px" fill="#b2b5be" stroke="#b2b5be" stroke-width="0.35">2023</text><text x="414" y="699.5" text-anchor="middle" style="font-family:'Liberation Sans',sans-serif;font-size:10px" fill="#b2b5be">Mar</text><text x="486.6" y="699.5" text-anchor="middle" style="font-family:'Liberation Sans',sans-serif;font-size:10px" fill="#b2b5be">Apr</text><text x="622" y="699.5" text-anchor="middle" style="font-family:'Liberation Sans',sans-serif;font-size:10px" fill="#b2b5be">Jun</text><text x="757.5" y="699.5" text-anchor="middle" style="font-family:'Liberation Sans',sans-serif;font-size:10px" fill="#b2b5be">Aug</text><text x="830" y="699.5" text-anchor="middle" style="font-family:'Liberation Sans',sans-serif;font-size:10px" fill="#b2b5be">Sep</text><text x="965.5" y="699.5" text-anchor="middle" style="font-family:'Liberation Sans',sans-serif;font-size:10px" fill="#b2b5be">Nov</text><text x="1101" y="699.5" text-anchor="middle" style="font-family:'Liberation Sans',sans-serif;font-size:10px" fill="#b2b5be" stroke="#b2b5be" stroke-width="0.35">2024</text><text x="1173.5" y="699.5" text-anchor="middle" style="font-family:'Liberation Sans',sans-serif;font-size:10px" fill="#b2b5be">Feb</text><text x="1305" y="699.5" text-anchor="middle" style="font-family:'Liberation Sans',sans-serif;font-size:10px" fill="#b2b5be">Apr</text><path d="M9.2 652.5 L16.8 658.3 L19.8 640.0 L22.7 641.4 L29.3 623.8 L32.7 642.2 L44.7 634.1 L50.6 654.7 L54.3 656.9 L58.0 667.9 L63.8 673.8 L66.8 653.2 L70.5 642.2 L76.3 640.7 L80.3 624.5 L84.4 637.0 L92.5 648.8 L98.4 648.5 L102.0 640.0 L105.0 643.6 L110.1 629.7 L114.5 638.5 L117.5 637.0 L121.2 628.2 L124.8 626.7 L130.0 609.1 L132.9 622.3 L136.6 622.3 L141.0 631.1 L145.4 635.6 L149.1 644.4 L152.7 623.1 L158.6 615.0 L162.0 621.6 L168.2 600.3 L171.1 603.2 L177.7 600.0 L184.3 609.1 L186.5 617.2 L194.6 606.2 L197.6 606.2 L204.9 616.2 L212.3 601.0 L216.0 601.8 L221.8 610.3 L227.6 603.5 L232.0 606.2 L240.1 595.6 L246.0 610.6 L253.4 607.6 L259.2 612.3 L268.0 606.9 L271.7 613.2 L278.3 602.5 L284.2 631.1 L287.9 624.5 L291.6 635.3 L296.7 612.8 L302.6 610.6 L306.3 602.0 L313.6 607.6 L316.5 612.8 L319.5 612.0 L323.2 607.3 L334.9 599.1 L344.5 614.2 L348.1 610.6 L351.4 597.3 L359.9 639.2 L366.5 641.4 L369.4 637.0 L373.1 645.1 L379.7 635.6 L382.7 642.2 L389.3 640.7 L398.1 652.5 L404.0 659.1 L407.6 645.8 L411.3 650.2 L413.5 635.6 L417.2 644.4 L420.0 638.5 L423.7 631.9 L426.6 646.6 L429.6 648.5 L433.2 641.4 L440.6 622.3 L445.0 639.2 L448.7 637.8 L461.1 611.3 L464.8 615.0 L467.8 624.5 L473.6 616.7 L476.6 616.5 L479.5 610.6 L483.2 620.1 L489.1 609.1 L493.5 615.7 L496.4 615.7 L503.0 624.1 L511.1 604.7 L517.7 622.3 L521.4 618.2 L525.1 620.6 L533.2 610.6 L537.6 621.6 L540.5 614.2 L546.4 618.7 L549.3 625.3 L553.0 621.6 L555.2 614.2 L558.9 621.6 L564.0 622.6 L569.2 631.9 L571.4 628.9 L577.2 647.3 L581.6 642.9 L585.3 645.8 L590.5 655.4 L596.3 648.0 L603.7 656.1 L612.5 660.5 L616.2 654.4 L619.1 660.5 L622.5 644.4 L625.7 650.5 L630.0 651.7 L634.4 651.7 L638.1 634.1 L641.0 640.0 L644.0 638.5 L649.8 625.3 L653.5 608.4 L656.5 609.1 L662.3 614.2 L666.7 605.4 L672.6 623.8 L678.5 615.0 L685.1 631.9 L690.2 624.5 L698.3 634.8 L704.2 617.2 L709.4 612.0 L713.8 597.3 L717.4 591.2 L722.6 590.7 L727.0 592.9 L731.4 608.4 L735.8 614.2 L738.7 626.0 L741.7 626.7 L744.6 623.1 L748.3 640.0 L751.2 634.1 L754.9 637.0 L758.6 634.1 L760.8 644.4 L764.5 642.9 L767.4 633.4 L771.1 633.4 L774.0 641.4 L776.9 637.8 L779.9 636.3 L786.5 648.0 L789.4 648.8 L796.0 654.4 L801.9 646.6 L804.9 654.7 L808.5 651.0 L814.4 660.5 L818.8 651.7 L824.0 630.4 L830.6 653.2 L833.5 649.5 L837.2 657.6 L842.2 660.2 L845.9 660.5 L849.6 648.8 L852.5 646.6 L855.4 650.2 L858.4 661.7 L862.0 657.6 L865.0 651.0 L872.3 655.0 L877.5 657.6 L881.1 665.0 L884.1 667.9 L886.7 674.1 L890.0 659.1 L893.6 658.3 L895.8 667.1 L899.5 669.1 L903.2 656.9 L909.1 642.2 L912.0 645.1 L917.9 634.8 L923.8 651.0 L928.2 640.7 L931.8 638.5 L934.8 644.4 L939.9 633.4 L943.6 622.3 L948.0 634.8 L951.7 638.2 L956.1 637.3 L959.8 629.7 L963.4 636.3 L966.4 636.3 L972.3 612.8 L978.1 618.2 L981.8 617.2 L985.5 625.0 L991.4 620.1 L994.3 599.6 L998.0 605.4 L1001.6 603.2 L1007.5 596.6 L1013.4 607.3 L1019.3 602.0 L1025.2 596.6 L1029.6 601.8 L1031.8 619.4 L1035.4 620.9 L1039.9 631.9 L1045.0 640.7 L1047.2 635.6 L1050.0 638.5 L1053.7 640.7 L1057.3 633.4 L1063.5 606.2 L1066.9 622.3 L1073.5 612.8 L1076.2 619.4 L1080.1 611.7 L1085.3 612.3 L1091.9 602.5 L1097.0 613.5 L1101.4 615.0 L1106.6 634.1 L1111.0 631.1 L1117.6 630.0 L1121.3 632.9 L1125.0 626.0 L1129.4 627.5 L1133.8 631.9 L1136.7 643.6 L1141.8 643.2 L1145.5 639.2 L1151.4 647.3 L1155.1 640.0 L1158.7 645.8 L1164.6 648.8 L1167.6 645.5 L1170.5 650.2 L1173.4 637.0 L1180.0 657.6 L1189.6 648.8 L1197.0 648.0 L1199.9 659.8 L1204.3 642.9 L1211.6 641.4 L1216.1 633.4 L1220.5 630.4 L1224.1 630.4 L1227.8 622.3 L1233.0 625.3 L1237.4 636.3 L1242.5 623.1 L1246.9 621.6 L1249.9 611.7 L1252.8 611.0" stroke="#7e57c2" stroke-width="1.05" fill="none" stroke-linejoin="round"/><path d="M9.2 652.0 L10.7 652.3 L12.2 652.6 L13.7 653.2 L15.2 653.5 L16.7 653.6 L18.2 653.4 L19.7 653.0 L21.2 652.3 L22.7 651.5 L24.2 650.8 L25.7 650.1 L27.2 649.4 L28.7 648.7 L30.2 648.0 L31.7 647.4 L33.2 646.8 L34.7 646.3 L36.2 645.7 L37.7 645.2 L39.2 644.6 L40.7 644.1 L42.2 643.6 L43.7 643.2 L45.2 642.9 L46.7 642.7 L48.2 642.7 L49.7 642.8 L51.2 642.9 L52.7 643.1 L54.2 643.4 L55.7 643.8 L57.2 644.3 L58.7 644.9 L60.2 645.5 L61.7 646.0 L63.2 646.6 L64.7 647.2 L66.2 647.6 L67.7 648.1 L69.2 648.5 L70.7 648.8 L72.2 649.0 L73.7 649.2 L75.2 649.2 L76.7 649.1 L78.2 648.9 L79.7 648.8 L81.2 648.7 L82.7 648.7 L84.2 648.8 L85.7 648.9 L87.2 649.1 L88.7 649.2 L90.2 649.3 L91.7 649.3 L93.2 649.3 L94.7 649.2 L96.2 649.1 L97.7 648.7 L99.2 648.2 L100.7 647.5 L102.2 646.7 L103.7 645.6 L105.2 644.6 L106.7 643.6 L108.2 642.6 L109.7 641.7 L111.2 641.1 L112.7 640.6 L114.2 640.2 L115.7 640.0 L117.2 639.8 L118.7 639.5 L120.2 639.3 L121.7 639.1 L123.2 638.8 L124.7 638.4 L126.2 637.9 L127.7 637.3 L129.2 636.5 L130.7 635.7 L132.2 634.9 L133.7 634.0 L135.2 633.2 L136.7 632.4 L138.2 631.6 L139.7 631.0 L141.2 630.5 L142.7 630.1 L144.2 629.9 L145.7 629.7 L147.2 629.5 L148.7 629.3 L150.2 629.1 L151.7 628.9 L153.2 628.6 L154.7 628.2 L156.2 627.7 L157.7 627.1 L159.2 626.3 L160.7 625.5 L162.2 624.8 L163.7 624.0 L165.2 623.2 L166.7 622.4 L168.2 621.7 L169.7 621.0 L171.2 620.4 L172.7 619.8 L174.2 619.3 L175.7 618.7 L177.2 618.2 L178.7 617.7 L180.2 617.2 L181.7 616.6 L183.2 616.0 L184.7 615.3 L186.2 614.5 L187.7 613.7 L189.2 612.8 L190.7 612.0 L192.2 611.1 L193.7 610.3 L195.2 609.6 L196.7 609.1 L198.2 608.7 L199.7 608.5 L201.2 608.4 L202.7 608.2 L204.2 608.1 L205.7 608.1 L207.2 608.0 L208.7 608.1 L210.2 608.2 L211.7 608.3 L213.2 608.4 L214.7 608.5 L216.2 608.6 L217.7 608.7 L219.2 608.8 L220.7 608.9 L222.2 608.9 L223.7 608.8 L225.2 608.7 L226.7 608.5 L228.2 608.2 L229.7 607.9 L231.2 607.7 L232.7 607.4 L234.2 607.1 L235.7 606.9 L237.2 606.6 L238.7 606.4 L240.2 606.2 L241.7 606.0 L243.2 605.9 L244.7 605.7 L246.2 605.6 L247.7 605.4 L249.2 605.3 L250.7 605.2 L252.2 605.3 L253.7 605.4 L255.2 605.6 L256.7 605.8 L258.2 606.1 L259.7 606.3 L261.2 606.5 L262.7 606.6 L264.2 606.7 L265.7 606.7 L267.2 606.8 L268.7 606.9 L270.2 606.9 L271.7 607.0 L273.2 607.1 L274.7 607.1 L276.2 607.2 L277.7 607.4 L279.2 607.7 L280.7 608.1 L282.2 608.7 L283.7 609.4 L285.2 610.0 L286.7 610.7 L288.2 611.3 L289.7 612.0 L291.2 612.6 L292.7 613.1 L294.2 613.6 L295.7 613.9 L297.2 614.0 L298.7 614.1 L300.2 614.0 L301.7 613.9 L303.2 613.9 L304.7 613.8 L306.2 613.8 L307.7 613.7 L309.2 613.6 L310.7 613.6 L312.2 613.6 L313.7 613.6 L315.2 613.6 L316.7 613.7 L318.2 613.8 L319.7 613.9 L321.2 613.9 L322.7 614.0 L324.2 614.0 L325.7 613.7 L327.2 613.2 L328.7 612.5 L330.2 611.6 L331.7 610.7 L333.2 609.8 L334.7 608.8 L336.2 608.1 L337.7 607.5 L339.2 607.2 L340.7 607.0 L342.2 607.0 L343.7 607.0 L345.2 607.1 L346.7 607.1 L348.2 607.2 L349.7 607.2 L351.2 607.3 L352.7 607.5 L354.2 607.9 L355.7 608.6 L357.2 609.4 L358.7 610.4 L360.2 611.3 L361.7 612.3 L363.2 613.3 L364.7 614.4 L366.2 615.5 L367.7 616.6 L369.2 617.9 L370.7 619.1 L372.2 620.4 L373.7 621.6 L375.2 622.9 L376.7 624.1 L378.2 625.4 L379.7 626.6 L381.2 627.8 L382.7 628.9 L384.2 629.9 L385.7 630.9 L387.2 631.9 L388.7 632.9 L390.2 634.0 L391.7 635.2 L393.2 636.5 L394.7 637.9 L396.2 639.2 L397.7 640.4 L399.2 641.4 L400.7 642.3 L402.2 643.1 L403.7 643.7 L405.2 644.2 L406.7 644.6 L408.2 644.8 L409.7 644.9 L411.2 645.0 L412.7 645.1 L414.2 645.2 L415.7 645.3 L417.2 645.3 L418.7 645.4 L420.2 645.5 L421.7 645.5 L423.2 645.5 L424.7 645.5 L426.2 645.5 L427.7 645.5 L429.2 645.5 L430.7 645.5 L432.2 645.4 L433.7 645.2 L435.2 644.8 L436.7 644.3 L438.2 643.5 L439.7 642.7 L441.2 641.9 L442.7 641.2 L444.2 640.5 L445.7 639.8 L447.2 639.2 L448.7 638.5 L450.2 637.9 L451.7 637.2 L453.2 636.5 L454.7 635.7 L456.2 635.0 L457.7 634.2 L459.2 633.4 L460.7 632.7 L462.2 631.9 L463.7 631.1 L465.2 630.3 L466.7 629.4 L468.2 628.6 L469.7 627.7 L471.2 626.9 L472.7 626.0 L474.2 625.2 L475.7 624.4 L477.2 623.6 L478.7 623.0 L480.2 622.5 L481.7 622.1 L483.2 621.7 L484.7 621.4 L486.2 620.9 L487.7 620.2 L489.2 619.5 L490.7 618.7 L492.2 618.0 L493.7 617.4 L495.2 616.9 L496.7 616.7 L498.2 616.5 L499.7 616.6 L501.2 616.6 L502.7 616.6 L504.2 616.6 L505.7 616.6 L507.2 616.5 L508.7 616.3 L510.2 615.9 L511.7 615.5 L513.2 615.1 L514.7 614.8 L516.2 614.6 L517.7 614.6 L519.2 614.7 L520.7 614.9 L522.2 615.1 L523.7 615.3 L525.2 615.5 L526.7 615.7 L528.2 615.9 L529.7 616.0 L531.2 616.2 L532.7 616.2 L534.2 616.3 L535.7 616.3 L537.2 616.3 L538.7 616.3 L540.2 616.4 L541.7 616.4 L543.2 616.4 L544.7 616.4 L546.2 616.5 L547.7 616.6 L549.2 616.8 L550.7 617.0 L552.2 617.3 L553.7 617.6 L555.2 617.9 L556.7 618.2 L558.2 618.4 L559.7 618.7 L561.2 619.0 L562.7 619.3 L564.2 619.6 L565.7 619.9 L567.2 620.1 L568.7 620.4 L570.2 620.7 L571.7 621.2 L573.2 621.8 L574.7 622.5 L576.2 623.3 L577.7 624.3 L579.2 625.2 L580.7 626.2 L582.2 627.1 L583.7 628.1 L585.2 629.1 L586.7 630.2 L588.2 631.2 L589.7 632.2 L591.2 633.2 L592.7 634.3 L594.2 635.3 L595.7 636.4 L597.2 637.4 L598.7 638.6 L600.2 639.7 L601.7 640.9 L603.2 642.0 L604.7 643.2 L606.2 644.3 L607.7 645.4 L609.2 646.5 L610.7 647.6 L612.2 648.7 L613.7 649.7 L615.2 650.7 L616.7 651.5 L618.2 652.1 L619.7 652.6 L621.2 652.8 L622.7 652.9 L624.2 653.0 L625.7 653.2 L627.2 653.3 L628.7 653.3 L630.2 653.3 L631.7 653.2 L633.2 653.0 L634.7 652.8 L636.2 652.5 L637.7 652.3 L639.2 652.0 L640.7 651.7 L642.2 651.3 L643.7 650.7 L645.2 649.9 L646.7 648.9 L648.2 647.8 L649.7 646.7 L651.2 645.4 L652.7 644.0 L654.2 642.4 L655.7 640.7 L657.2 639.0 L658.7 637.3 L660.2 635.8 L661.7 634.4 L663.2 633.1 L664.7 631.8 L666.2 630.5 L667.7 629.3 L669.2 628.1 L670.7 627.0 L672.2 625.9 L673.7 624.9 L675.2 624.0 L676.7 623.0 L678.2 622.2 L679.7 621.4 L681.2 620.8 L682.7 620.3 L684.2 619.9 L685.7 619.6 L687.2 619.2 L688.7 618.9 L690.2 618.7 L691.7 618.7 L693.2 618.9 L694.7 619.3 L696.2 619.9 L697.7 620.4 L699.2 621.0 L700.7 621.4 L702.2 621.7 L703.7 622.0 L705.2 622.1 L706.7 622.1 L708.2 622.2 L709.7 622.1 L711.2 621.8 L712.7 621.3 L714.2 620.7 L715.7 619.8 L717.2 618.9 L718.7 618.0 L720.2 617.0 L721.7 616.0 L723.2 615.0 L724.7 614.0 L726.2 612.9 L727.7 611.9 L729.2 611.1 L730.7 610.5 L732.2 610.0 L733.7 609.7 L735.2 609.4 L736.7 609.2 L738.2 608.9 L739.7 608.7 L741.2 608.5 L742.7 608.4 L744.2 608.5 L745.7 608.8 L747.2 609.4 L748.7 610.1 L750.2 610.9 L751.7 611.7 L753.2 612.5 L754.7 613.3 L756.2 614.3 L757.7 615.5 L759.2 616.9 L760.7 618.5 L762.2 620.2 L763.7 622.0 L765.2 623.7 L766.7 625.2 L768.2 626.6 L769.7 627.9 L771.2 629.0 L772.7 630.2 L774.2 631.3 L775.7 632.4 L777.2 633.4 L778.7 634.3 L780.2 635.2 L781.7 636.0 L783.2 636.8 L784.7 637.6 L786.2 638.3 L787.7 639.1 L789.2 639.7 L790.7 640.3 L792.2 640.9 L793.7 641.4 L795.2 641.9 L796.7 642.4 L798.2 642.9 L799.7 643.3 L801.2 643.7 L802.7 644.1 L804.2 644.5 L805.7 644.9 L807.2 645.3 L808.7 645.9 L810.2 646.5 L811.7 647.2 L813.2 647.9 L814.7 648.5 L816.2 648.9 L817.7 649.1 L819.2 649.2 L820.7 649.3 L822.2 649.3 L823.7 649.4 L825.2 649.4 L826.7 649.5 L828.2 649.5 L829.7 649.6 L831.2 649.7 L832.7 649.8 L834.2 649.9 L835.7 649.9 L837.2 650.0 L838.7 650.2 L840.2 650.5 L841.7 650.8 L843.2 651.2 L844.7 651.6 L846.2 651.9 L847.7 652.0 L849.2 652.0 L850.7 651.8 L852.2 651.5 L853.7 651.3 L855.2 651.2 L856.7 651.1 L858.2 651.2 L859.7 651.2 L861.2 651.3 L862.7 651.6 L864.2 651.9 L865.7 652.3 L867.2 652.9 L868.7 653.5 L870.2 654.0 L871.7 654.5 L873.2 654.9 L874.7 655.2 L876.2 655.6 L877.7 655.9 L879.2 656.2 L880.7 656.6 L882.2 656.8 L883.7 657.1 L885.2 657.3 L886.7 657.5 L888.2 657.6 L889.7 657.7 L891.2 657.9 L892.7 658.1 L894.2 658.4 L895.7 658.8 L897.2 659.3 L898.7 659.8 L900.2 660.2 L901.7 660.4 L903.2 660.4 L904.7 660.3 L906.2 660.1 L907.7 659.8 L909.2 659.5 L910.7 659.1 L912.2 658.6 L913.7 658.1 L915.2 657.5 L916.7 656.9 L918.2 656.3 L919.7 655.7 L921.2 655.1 L922.7 654.6 L924.2 654.0 L925.7 653.4 L927.2 652.8 L928.7 652.1 L930.2 651.3 L931.7 650.4 L933.2 649.5 L934.7 648.6 L936.2 647.7 L937.7 646.7 L939.2 645.6 L940.7 644.5 L942.2 643.4 L943.7 642.4 L945.2 641.5 L946.7 640.8 L948.2 640.2 L949.7 639.7 L951.2 639.4 L952.7 639.0 L954.2 638.6 L955.7 638.3 L957.2 638.0 L958.7 637.7 L960.2 637.5 L961.7 637.3 L963.2 637.1 L964.7 636.8 L966.2 636.3 L967.7 635.8 L969.2 635.0 L970.7 634.2 L972.2 633.3 L973.7 632.4 L975.2 631.5 L976.7 630.6 L978.2 629.9 L979.7 629.3 L981.2 628.8 L982.7 628.5 L984.2 628.4 L985.7 628.2 L987.2 628.0 L988.7 627.8 L990.2 627.3 L991.7 626.7 L993.2 625.8 L994.7 624.7 L996.2 623.4 L997.7 622.1 L999.2 620.8 L1000.7 619.5 L1002.2 618.3 L1003.7 617.1 L1005.2 616.0 L1006.7 614.8 L1008.2 613.7 L1009.7 612.6 L1011.2 611.7 L1012.7 610.9 L1014.2 610.2 L1015.7 609.7 L1017.2 609.2 L1018.7 608.7 L1020.2 608.2 L1021.7 607.7 L1023.2 607.1 L1024.7 606.5 L1026.2 605.9 L1027.7 605.3 L1029.2 604.9 L1030.7 604.6 L1032.2 604.4 L1033.7 604.6 L1035.2 605.0 L1036.7 605.6 L1038.2 606.4 L1039.7 607.4 L1041.2 608.4 L1042.7 609.5 L1044.2 610.7 L1045.7 611.9 L1047.2 613.2 L1048.7 614.5 L1050.2 615.7 L1051.7 616.9 L1053.2 618.0 L1054.7 619.1 L1056.2 620.1 L1057.7 621.0 L1059.2 621.7 L1060.7 622.3 L1062.2 622.7 L1063.7 623.0 L1065.2 623.4 L1066.7 623.9 L1068.2 624.5 L1069.7 625.1 L1071.2 625.8 L1072.7 626.3 L1074.2 626.7 L1075.7 626.8 L1077.2 626.7 L1078.7 626.4 L1080.2 625.9 L1081.7 625.2 L1083.2 624.4 L1084.7 623.4 L1086.2 622.4 L1087.7 621.2 L1089.2 620.2 L1090.7 619.2 L1092.2 618.2 L1093.7 617.3 L1095.2 616.5 L1096.7 615.7 L1098.2 614.9 L1099.7 614.4 L1101.2 614.1 L1102.7 614.1 L1104.2 614.4 L1105.7 614.9 L1107.2 615.5 L1108.7 616.1 L1110.2 616.6 L1111.7 617.2 L1113.2 617.7 L1114.7 618.2 L1116.2 618.7 L1117.7 619.2 L1119.2 619.7 L1120.7 620.2 L1122.2 620.7 L1123.7 621.3 L1125.2 621.9 L1126.7 622.4 L1128.2 623.0 L1129.7 623.6 L1131.2 624.2 L1132.7 625.0 L1134.2 625.8 L1135.7 626.8 L1137.2 627.8 L1138.7 628.8 L1140.2 629.8 L1141.7 630.8 L1143.2 631.8 L1144.7 632.7 L1146.2 633.4 L1147.7 634.1 L1149.2 634.7 L1150.7 635.2 L1152.2 635.7 L1153.7 636.2 L1155.2 636.8 L1156.7 637.3 L1158.2 637.8 L1159.7 638.4 L1161.2 638.9 L1162.7 639.5 L1164.2 640.0 L1165.7 640.6 L1167.2 641.2 L1168.7 641.7 L1170.2 642.3 L1171.7 642.9 L1173.2 643.4 L1174.7 643.9 L1176.2 644.3 L1177.7 644.7 L1179.2 645.0 L1180.7 645.4 L1182.2 645.7 L1183.7 646.0 L1185.2 646.3 L1186.7 646.7 L1188.2 647.0 L1189.7 647.3 L1191.2 647.6 L1192.7 647.9 L1194.2 648.2 L1195.7 648.5 L1197.2 648.9 L1198.7 649.2 L1200.2 649.4 L1201.7 649.6 L1203.2 649.7 L1204.7 649.7 L1206.2 649.5 L1207.7 649.3 L1209.2 649.1 L1210.7 648.9 L1212.2 648.6 L1213.7 648.3 L1215.2 647.9 L1216.7 647.5 L1218.2 647.1 L1219.7 646.6 L1221.2 645.9 L1222.7 645.1 L1224.2 644.1 L1225.7 643.1 L1227.2 642.2 L1228.7 641.3 L1230.2 640.5 L1231.7 639.7 L1233.2 639.1 L1234.7 638.4 L1236.2 637.8 L1237.7 637.2 L1239.2 636.5 L1240.7 635.6 L1242.2 634.7 L1243.7 633.7 L1245.2 632.5 L1246.7 631.3 L1248.2 630.2 L1249.7 629.0 L1251.2 628.4 L1252.7 627.8" stroke="#f5e13b" stroke-width="1.05" fill="none"/><circle cx="1252.7" cy="574.4" r="7.9" stroke="#ab47bc" stroke-width="1.6" fill="none"/><path d="M1254.9 570.2 L1249.3 574.6 L1255.6 574.1 L1250.1 578.6" stroke="#ab47bc" stroke-width="1.5" fill="none" stroke-linejoin="miter"/><circle cx="1258.8" cy="568.3" r="3.3" fill="#141822"/><circle cx="1258.8" cy="568.3" r="2.3" fill="#f23645"/><text x="16" y="40.8" style="font-family:'Liberation Sans',sans-serif;font-size:10.5px" fill="#b2b5be">Euro / U.S. Dollar, 1D, ICE</text><text x="145.8" y="40.8" style="font-family:'Liberation Sans',sans-serif;font-size:10.5px" fill="#b2b5be">O</text><text x="154" y="40.8" style="font-family:'Liberation Sans',sans-serif;font-size:10px" fill="#22ab94">1.08978</text><text x="196.6" y="40.8" style="font-family:'Liberation Sans',sans-serif;font-size:10.5px" fill="#b2b5be">H</text><text x="204.3" y="40.8" style="font-family:'Liberation Sans',sans-serif;font-size:10px" fill="#22ab94">1.09074</text><text x="247.4" y="40.8" style="font-family:'Liberation Sans',sans-serif;font-size:10.5px" fill="#b2b5be">L</text><text x="253.1" y="40.8" style="font-family:'Liberation Sans',sans-serif;font-size:10px" fill="#22ab94">1.08966</text><text x="295.7" y="40.8" style="font-family:'Liberation Sans',sans-serif;font-size:10.5px" fill="#b2b5be">C</text><text x="303.1" y="40.8" style="font-family:'Liberation Sans',sans-serif;font-size:10px" fill="#22ab94">1.09028</text><text x="345.9" y="40.8" style="font-family:'Liberation Sans',sans-serif;font-size:10px" fill="#22ab94">+0.00044 (+0.04%)</text><path d="M9 718.5h6.8v8.4h-3.7v-5.8h-3.1z" fill="#d1d4dc"/><circle cx="18.7" cy="720.6" r="1.7" fill="#d1d4dc"/><path d="M19 726.9h3.7l3.2-8.4h-3.7z" fill="#d1d4dc"/><text x="29" y="727.7" style="font-family:'Liberation Sans',sans-serif;font-size:11.3px" fill="#d1d4dc" stroke="#d1d4dc" stroke-width="0.3">TradingView</text><text x="1193.9" y="732.4" textLength="18.8" lengthAdjust="spacingAndGlyphs" style="font-family:'Liberation Sans',sans-serif;font-size:30px;font-weight:700;font-style:italic" fill="#2143a2" stroke="#2143a2" stroke-width="0.8">z</text><text x="1220.4" y="732.4" textLength="18.7" lengthAdjust="spacingAndGlyphs" style="font-family:'Liberation Sans',sans-serif;font-size:30px;font-weight:700;font-style:italic" fill="#2143a2" stroke="#2143a2" stroke-width="0.8">z</text><text x="1248.5" y="732.4" textLength="16.2" lengthAdjust="spacingAndGlyphs" style="font-family:'Liberation Sans',sans-serif;font-size:30px;font-weight:700;font-style:italic" fill="#2143a2" stroke="#2143a2" stroke-width="0.8">r</text><text x="1273.3" y="732.4" textLength="15.3" lengthAdjust="spacingAndGlyphs" style="font-family:'Liberation Sans',sans-serif;font-size:30px;font-weight:700;font-style:italic" fill="#2143a2" stroke="#2143a2" stroke-width="0.8">t</text><text x="1293.8" y="732.4" textLength="18.7" lengthAdjust="spacingAndGlyphs" style="font-family:'Liberation Sans',sans-serif;font-size:30px;font-weight:700;font-style:italic" fill="#2143a2" stroke="#2143a2" stroke-width="0.8">0</text><text x="1327.9" y="732.4" textLength="12" lengthAdjust="spacingAndGlyphs" style="font-family:'Liberation Sans',sans-serif;font-size:30px;font-weight:700;font-style:italic" fill="#2143a2" stroke="#2143a2" stroke-width="0.8">1</text><text x="1351.0" y="732.4" textLength="8.5" lengthAdjust="spacingAndGlyphs" style="font-family:'Liberation Sans',sans-serif;font-size:30px;font-weight:700;font-style:italic" fill="#2143a2" stroke="#2143a2" stroke-width="0.8">.</text><text x="1371.5" y="732.4" textLength="18" lengthAdjust="spacingAndGlyphs" style="font-family:'Liberation Sans',sans-serif;font-size:30px;font-weight:700;font-style:italic" fill="#2143a2" stroke="#2143a2" stroke-width="0.8">c</text><text x="1396.2" y="732.4" textLength="20.5" lengthAdjust="spacingAndGlyphs" style="font-family:'Liberation Sans',sans-serif;font-size:30px;font-weight:700;font-style:italic" fill="#2143a2" stroke="#2143a2" stroke-width="0.8">n</text>
</svg>
</body></html>
